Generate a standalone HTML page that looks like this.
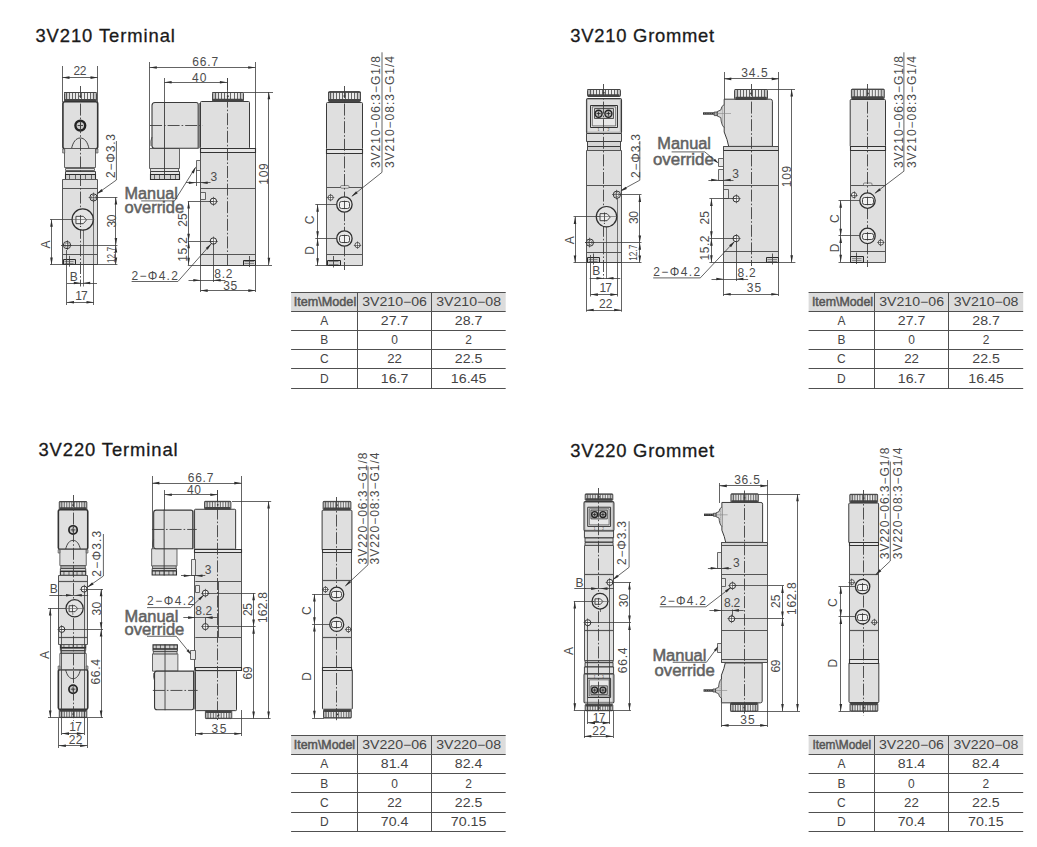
<!DOCTYPE html>
<html><head><meta charset="utf-8"><style>
html,body{margin:0;padding:0;background:#fff;overflow:hidden;width:1037px;height:847px;}
svg{display:block;font-family:"Liberation Sans",sans-serif;}
svg line,svg rect,svg circle,svg path,svg polyline{vector-effect:non-scaling-stroke;}
</style></head><body>
<svg width="1037" height="847" viewBox="0 0 1037 847">
<defs><linearGradient id="kg" x1="0" x2="1" y1="0" y2="0"><stop offset="0" stop-color="#a8a8a8"/><stop offset="0.18" stop-color="#e6e6e6"/><stop offset="0.8" stop-color="#eeeeee"/><stop offset="1" stop-color="#b0b0b0"/></linearGradient></defs>
<rect width="1037" height="847" fill="#fff"/>
<rect x="291.1" y="292" width="214.6" height="19.2" fill="#dcdcdc"/>
<line x1="291.1" y1="292.5" x2="505.7" y2="292.5" stroke="#505050" stroke-width="1"/>
<line x1="291.1" y1="311.5" x2="505.7" y2="311.5" stroke="#505050" stroke-width="1"/>
<line x1="291.1" y1="330.5" x2="505.7" y2="330.5" stroke="#505050" stroke-width="1"/>
<line x1="291.1" y1="349.5" x2="505.7" y2="349.5" stroke="#505050" stroke-width="1"/>
<line x1="291.1" y1="368.5" x2="505.7" y2="368.5" stroke="#505050" stroke-width="1"/>
<line x1="291.1" y1="388.5" x2="505.7" y2="388.5" stroke="#505050" stroke-width="1"/>
<line x1="357.5" y1="292" x2="357.5" y2="388.1" stroke="#505050" stroke-width="1"/>
<line x1="431.5" y1="292" x2="431.5" y2="388.1" stroke="#505050" stroke-width="1"/>
<text x="293.8" y="305.6" font-size="13" fill="#555" stroke="#555" stroke-width="0.5" textLength="62.4" lengthAdjust="spacingAndGlyphs">Item\Model</text>
<text x="394.55" y="305.9" font-size="12" fill="#444" text-anchor="middle" textLength="64.85" lengthAdjust="spacingAndGlyphs">3V210−06</text>
<text x="468.65" y="305.9" font-size="12" fill="#444" text-anchor="middle" textLength="64.85" lengthAdjust="spacingAndGlyphs">3V210−08</text>
<text x="324.3" y="325.15" font-size="12" fill="#444" text-anchor="middle" textLength="8" lengthAdjust="spacingAndGlyphs">A</text>
<text x="394.55" y="325.15" font-size="12" fill="#444" text-anchor="middle" textLength="27.54" lengthAdjust="spacingAndGlyphs">27.7</text>
<text x="468.65" y="325.15" font-size="12" fill="#444" text-anchor="middle" textLength="27.54" lengthAdjust="spacingAndGlyphs">28.7</text>
<text x="324.3" y="344.25" font-size="12" fill="#444" text-anchor="middle" textLength="8" lengthAdjust="spacingAndGlyphs">B</text>
<text x="394.55" y="344.25" font-size="12" fill="#444" text-anchor="middle" textLength="6.67" lengthAdjust="spacingAndGlyphs">0</text>
<text x="468.65" y="344.25" font-size="12" fill="#444" text-anchor="middle" textLength="6.67" lengthAdjust="spacingAndGlyphs">2</text>
<text x="324.3" y="363.35" font-size="12" fill="#444" text-anchor="middle" textLength="8.67" lengthAdjust="spacingAndGlyphs">C</text>
<text x="394.55" y="363.35" font-size="12" fill="#444" text-anchor="middle" textLength="14.74" lengthAdjust="spacingAndGlyphs">22</text>
<text x="468.65" y="363.35" font-size="12" fill="#444" text-anchor="middle" textLength="27.54" lengthAdjust="spacingAndGlyphs">22.5</text>
<text x="324.3" y="382.7" font-size="12" fill="#444" text-anchor="middle" textLength="8.67" lengthAdjust="spacingAndGlyphs">D</text>
<text x="394.55" y="382.7" font-size="12" fill="#444" text-anchor="middle" textLength="27.54" lengthAdjust="spacingAndGlyphs">16.7</text>
<text x="468.65" y="382.7" font-size="12" fill="#444" text-anchor="middle" textLength="35.62" lengthAdjust="spacingAndGlyphs">16.45</text>
<rect x="808.6" y="292" width="214.6" height="19.2" fill="#dcdcdc"/>
<line x1="808.6" y1="292.5" x2="1023.2" y2="292.5" stroke="#505050" stroke-width="1"/>
<line x1="808.6" y1="311.5" x2="1023.2" y2="311.5" stroke="#505050" stroke-width="1"/>
<line x1="808.6" y1="330.5" x2="1023.2" y2="330.5" stroke="#505050" stroke-width="1"/>
<line x1="808.6" y1="349.5" x2="1023.2" y2="349.5" stroke="#505050" stroke-width="1"/>
<line x1="808.6" y1="368.5" x2="1023.2" y2="368.5" stroke="#505050" stroke-width="1"/>
<line x1="808.6" y1="388.5" x2="1023.2" y2="388.5" stroke="#505050" stroke-width="1"/>
<line x1="874.5" y1="292" x2="874.5" y2="388.1" stroke="#505050" stroke-width="1"/>
<line x1="948.5" y1="292" x2="948.5" y2="388.1" stroke="#505050" stroke-width="1"/>
<text x="811.9" y="305.6" font-size="13" fill="#555" stroke="#555" stroke-width="0.5" textLength="61.2" lengthAdjust="spacingAndGlyphs">Item\Model</text>
<text x="911.6" y="305.9" font-size="12" fill="#444" text-anchor="middle" textLength="64.85" lengthAdjust="spacingAndGlyphs">3V210−06</text>
<text x="986.05" y="305.9" font-size="12" fill="#444" text-anchor="middle" textLength="64.85" lengthAdjust="spacingAndGlyphs">3V210−08</text>
<text x="841.45" y="325.15" font-size="12" fill="#444" text-anchor="middle" textLength="8" lengthAdjust="spacingAndGlyphs">A</text>
<text x="911.6" y="325.15" font-size="12" fill="#444" text-anchor="middle" textLength="27.54" lengthAdjust="spacingAndGlyphs">27.7</text>
<text x="986.05" y="325.15" font-size="12" fill="#444" text-anchor="middle" textLength="27.54" lengthAdjust="spacingAndGlyphs">28.7</text>
<text x="841.45" y="344.25" font-size="12" fill="#444" text-anchor="middle" textLength="8" lengthAdjust="spacingAndGlyphs">B</text>
<text x="911.6" y="344.25" font-size="12" fill="#444" text-anchor="middle" textLength="6.67" lengthAdjust="spacingAndGlyphs">0</text>
<text x="986.05" y="344.25" font-size="12" fill="#444" text-anchor="middle" textLength="6.67" lengthAdjust="spacingAndGlyphs">2</text>
<text x="841.45" y="363.35" font-size="12" fill="#444" text-anchor="middle" textLength="8.67" lengthAdjust="spacingAndGlyphs">C</text>
<text x="911.6" y="363.35" font-size="12" fill="#444" text-anchor="middle" textLength="14.74" lengthAdjust="spacingAndGlyphs">22</text>
<text x="986.05" y="363.35" font-size="12" fill="#444" text-anchor="middle" textLength="27.54" lengthAdjust="spacingAndGlyphs">22.5</text>
<text x="841.45" y="382.7" font-size="12" fill="#444" text-anchor="middle" textLength="8.67" lengthAdjust="spacingAndGlyphs">D</text>
<text x="911.6" y="382.7" font-size="12" fill="#444" text-anchor="middle" textLength="27.54" lengthAdjust="spacingAndGlyphs">16.7</text>
<text x="986.05" y="382.7" font-size="12" fill="#444" text-anchor="middle" textLength="35.62" lengthAdjust="spacingAndGlyphs">16.45</text>
<rect x="291.1" y="735.4" width="214.6" height="19" fill="#dcdcdc"/>
<line x1="291.1" y1="735.5" x2="505.7" y2="735.5" stroke="#505050" stroke-width="1"/>
<line x1="291.1" y1="754.5" x2="505.7" y2="754.5" stroke="#505050" stroke-width="1"/>
<line x1="291.1" y1="773.5" x2="505.7" y2="773.5" stroke="#505050" stroke-width="1"/>
<line x1="291.1" y1="792.5" x2="505.7" y2="792.5" stroke="#505050" stroke-width="1"/>
<line x1="291.1" y1="812.5" x2="505.7" y2="812.5" stroke="#505050" stroke-width="1"/>
<line x1="291.1" y1="831.5" x2="505.7" y2="831.5" stroke="#505050" stroke-width="1"/>
<line x1="357.5" y1="735.4" x2="357.5" y2="831.5" stroke="#505050" stroke-width="1"/>
<line x1="431.5" y1="735.4" x2="431.5" y2="831.5" stroke="#505050" stroke-width="1"/>
<text x="293.8" y="748.5" font-size="13" fill="#555" stroke="#555" stroke-width="0.5" textLength="61.3" lengthAdjust="spacingAndGlyphs">Item\Model</text>
<text x="394.55" y="749.2" font-size="12" fill="#444" text-anchor="middle" textLength="64.85" lengthAdjust="spacingAndGlyphs">3V220−06</text>
<text x="468.65" y="749.2" font-size="12" fill="#444" text-anchor="middle" textLength="64.85" lengthAdjust="spacingAndGlyphs">3V220−08</text>
<text x="324.3" y="768.3" font-size="12" fill="#444" text-anchor="middle" textLength="8" lengthAdjust="spacingAndGlyphs">A</text>
<text x="394.55" y="768.3" font-size="12" fill="#444" text-anchor="middle" textLength="27.54" lengthAdjust="spacingAndGlyphs">81.4</text>
<text x="468.65" y="768.3" font-size="12" fill="#444" text-anchor="middle" textLength="27.54" lengthAdjust="spacingAndGlyphs">82.4</text>
<text x="324.3" y="787.5" font-size="12" fill="#444" text-anchor="middle" textLength="8" lengthAdjust="spacingAndGlyphs">B</text>
<text x="394.55" y="787.5" font-size="12" fill="#444" text-anchor="middle" textLength="6.67" lengthAdjust="spacingAndGlyphs">0</text>
<text x="468.65" y="787.5" font-size="12" fill="#444" text-anchor="middle" textLength="6.67" lengthAdjust="spacingAndGlyphs">2</text>
<text x="324.3" y="806.85" font-size="12" fill="#444" text-anchor="middle" textLength="8.67" lengthAdjust="spacingAndGlyphs">C</text>
<text x="394.55" y="806.85" font-size="12" fill="#444" text-anchor="middle" textLength="14.74" lengthAdjust="spacingAndGlyphs">22</text>
<text x="468.65" y="806.85" font-size="12" fill="#444" text-anchor="middle" textLength="27.54" lengthAdjust="spacingAndGlyphs">22.5</text>
<text x="324.3" y="826.2" font-size="12" fill="#444" text-anchor="middle" textLength="8.67" lengthAdjust="spacingAndGlyphs">D</text>
<text x="394.55" y="826.2" font-size="12" fill="#444" text-anchor="middle" textLength="27.54" lengthAdjust="spacingAndGlyphs">70.4</text>
<text x="468.65" y="826.2" font-size="12" fill="#444" text-anchor="middle" textLength="35.62" lengthAdjust="spacingAndGlyphs">70.15</text>
<rect x="808.6" y="735.4" width="214.6" height="18.8" fill="#dcdcdc"/>
<line x1="808.6" y1="735.5" x2="1023.2" y2="735.5" stroke="#505050" stroke-width="1"/>
<line x1="808.6" y1="754.5" x2="1023.2" y2="754.5" stroke="#505050" stroke-width="1"/>
<line x1="808.6" y1="773.5" x2="1023.2" y2="773.5" stroke="#505050" stroke-width="1"/>
<line x1="808.6" y1="792.5" x2="1023.2" y2="792.5" stroke="#505050" stroke-width="1"/>
<line x1="808.6" y1="812.5" x2="1023.2" y2="812.5" stroke="#505050" stroke-width="1"/>
<line x1="808.6" y1="831.5" x2="1023.2" y2="831.5" stroke="#505050" stroke-width="1"/>
<line x1="874.5" y1="735.4" x2="874.5" y2="831.5" stroke="#505050" stroke-width="1"/>
<line x1="948.5" y1="735.4" x2="948.5" y2="831.5" stroke="#505050" stroke-width="1"/>
<text x="812.4" y="748.5" font-size="13" fill="#555" stroke="#555" stroke-width="0.5" textLength="58.7" lengthAdjust="spacingAndGlyphs">Item\Model</text>
<text x="911.45" y="749.1" font-size="12" fill="#444" text-anchor="middle" textLength="64.85" lengthAdjust="spacingAndGlyphs">3V220−06</text>
<text x="985.9" y="749.1" font-size="12" fill="#444" text-anchor="middle" textLength="64.85" lengthAdjust="spacingAndGlyphs">3V220−08</text>
<text x="841.45" y="768.2" font-size="12" fill="#444" text-anchor="middle" textLength="8" lengthAdjust="spacingAndGlyphs">A</text>
<text x="911.45" y="768.2" font-size="12" fill="#444" text-anchor="middle" textLength="27.54" lengthAdjust="spacingAndGlyphs">81.4</text>
<text x="985.9" y="768.2" font-size="12" fill="#444" text-anchor="middle" textLength="27.54" lengthAdjust="spacingAndGlyphs">82.4</text>
<text x="841.45" y="787.5" font-size="12" fill="#444" text-anchor="middle" textLength="8" lengthAdjust="spacingAndGlyphs">B</text>
<text x="911.45" y="787.5" font-size="12" fill="#444" text-anchor="middle" textLength="6.67" lengthAdjust="spacingAndGlyphs">0</text>
<text x="985.9" y="787.5" font-size="12" fill="#444" text-anchor="middle" textLength="6.67" lengthAdjust="spacingAndGlyphs">2</text>
<text x="841.45" y="806.85" font-size="12" fill="#444" text-anchor="middle" textLength="8.67" lengthAdjust="spacingAndGlyphs">C</text>
<text x="911.45" y="806.85" font-size="12" fill="#444" text-anchor="middle" textLength="14.74" lengthAdjust="spacingAndGlyphs">22</text>
<text x="985.9" y="806.85" font-size="12" fill="#444" text-anchor="middle" textLength="27.54" lengthAdjust="spacingAndGlyphs">22.5</text>
<text x="841.45" y="826.2" font-size="12" fill="#444" text-anchor="middle" textLength="8.67" lengthAdjust="spacingAndGlyphs">D</text>
<text x="911.45" y="826.2" font-size="12" fill="#444" text-anchor="middle" textLength="27.54" lengthAdjust="spacingAndGlyphs">70.4</text>
<text x="985.9" y="826.2" font-size="12" fill="#444" text-anchor="middle" textLength="35.62" lengthAdjust="spacingAndGlyphs">70.15</text>
<text x="35.4" y="42.1" font-size="18.4" fill="#1a1a1a" stroke="#1a1a1a" stroke-width="0.3" textLength="139.5" lengthAdjust="spacing">3V210 Terminal</text>
<line x1="62.5" y1="66" x2="62.5" y2="102" stroke="#3c3c3c" stroke-width="0.8"/>
<line x1="97.5" y1="66" x2="97.5" y2="102" stroke="#3c3c3c" stroke-width="0.8"/>
<line x1="62.3" y1="77.5" x2="97.7" y2="77.5" stroke="#3c3c3c" stroke-width="0.8"/>
<polygon points="62.3,77.6 69.5,76.3 69.5,78.9" fill="#2e2e2e"/>
<polygon points="97.7,77.6 90.5,76.3 90.5,78.9" fill="#2e2e2e"/>
<text x="80" y="75.3" font-size="12" fill="#4c4c4c" text-anchor="middle" textLength="13" lengthAdjust="spacing">22</text>
<rect x="64.5" y="92.5" width="32" height="9" fill="url(#kg)" stroke="#3a3a3a" stroke-width="0.9" rx="1"/>
<line x1="66.5" y1="92.5" x2="66.5" y2="100.9" stroke="#3a3a3a" stroke-width="0.75"/>
<line x1="69.5" y1="92.5" x2="69.5" y2="100.9" stroke="#3a3a3a" stroke-width="0.75"/>
<line x1="72.5" y1="92.5" x2="72.5" y2="100.9" stroke="#3a3a3a" stroke-width="0.75"/>
<line x1="75.5" y1="92.5" x2="75.5" y2="100.9" stroke="#3a3a3a" stroke-width="0.75"/>
<line x1="78.5" y1="92.5" x2="78.5" y2="100.9" stroke="#3a3a3a" stroke-width="0.75"/>
<line x1="81.5" y1="92.5" x2="81.5" y2="100.9" stroke="#3a3a3a" stroke-width="0.75"/>
<line x1="84.5" y1="92.5" x2="84.5" y2="100.9" stroke="#3a3a3a" stroke-width="0.75"/>
<line x1="87.5" y1="92.5" x2="87.5" y2="100.9" stroke="#3a3a3a" stroke-width="0.75"/>
<line x1="90.5" y1="92.5" x2="90.5" y2="100.9" stroke="#3a3a3a" stroke-width="0.75"/>
<line x1="93.5" y1="92.5" x2="93.5" y2="100.9" stroke="#3a3a3a" stroke-width="0.75"/>
<rect x="64.4" y="98.9" width="31.8" height="2.8" fill="#444" rx="1.2"/>
<line x1="64" y1="92.5" x2="96.6" y2="92.5" stroke="#444" stroke-width="0.9"/>
<circle cx="80.3" cy="96.23" r="1" fill="#333" stroke="none" stroke-width="0"/>
<rect x="62.9" y="101.7" width="34.8" height="47" fill="#dfdfdf" stroke="#333" stroke-width="1.6" rx="2"/>
<circle cx="80.3" cy="125.6" r="4.9" fill="#c8c8c8" stroke="#222" stroke-width="2.4"/>
<line x1="77.6" y1="125.5" x2="83" y2="125.5" stroke="#222" stroke-width="0.8"/>
<line x1="80.5" y1="122.9" x2="80.5" y2="128.3" stroke="#222" stroke-width="0.8"/>
<path d="M71.5,148.7 C73,142 76,138 80.3,138 C84.6,138 87.6,142 89,148.7" stroke="#333" stroke-width="0.9" fill="none"/>
<rect x="64.5" y="148.5" width="31" height="19" fill="#dfdfdf" stroke="#555" stroke-width="0.9"/>
<rect x="62.6" y="149" width="2.1" height="4" fill="#bbb" stroke="#444" stroke-width="0.6"/>
<rect x="95.9" y="149" width="2.1" height="4" fill="#bbb" stroke="#444" stroke-width="0.6"/>
<rect x="65.5" y="168.5" width="29" height="2" fill="#e4e4e4" stroke="#444" stroke-width="0.8"/>
<rect x="65.5" y="171.5" width="30" height="3" fill="#e4e4e4" stroke="#333" stroke-width="0.9"/>
<rect x="65.5" y="174.5" width="30" height="5" fill="#d0d0d0" stroke="#2e2e2e" stroke-width="1.1"/>
<line x1="69.5" y1="174.8" x2="69.5" y2="179.3" stroke="#333" stroke-width="0.7"/>
<line x1="75.5" y1="174.8" x2="75.5" y2="179.3" stroke="#333" stroke-width="0.7"/>
<line x1="80.5" y1="174.8" x2="80.5" y2="179.3" stroke="#333" stroke-width="0.7"/>
<line x1="85.5" y1="174.8" x2="85.5" y2="179.3" stroke="#333" stroke-width="0.7"/>
<line x1="91.5" y1="174.8" x2="91.5" y2="179.3" stroke="#333" stroke-width="0.7"/>
<rect x="62.5" y="179.5" width="35" height="85" fill="#dfdfdf" stroke="#555" stroke-width="1"/>
<line x1="62.5" y1="188.5" x2="97.5" y2="188.5" stroke="#555" stroke-width="1.2"/>
<line x1="62.5" y1="254.5" x2="97.5" y2="254.5" stroke="#555" stroke-width="1"/>
<line x1="93.5" y1="197" x2="93.5" y2="264.7" stroke="#555" stroke-width="0.8"/>
<line x1="80.5" y1="86" x2="80.5" y2="286.5" stroke="#3e3e3e" stroke-width="0.9" stroke-dasharray="12 2 1.6 2"/>
<line x1="83.5" y1="220" x2="83.5" y2="286.5" stroke="#555" stroke-width="0.8"/>
<rect x="63.5" y="259.5" width="12" height="5" fill="#d2d2d2" stroke="#2a2a2a" stroke-width="1"/>
<line x1="69.5" y1="255.8" x2="69.5" y2="266.7" stroke="#333" stroke-width="0.8"/>
<line x1="64.5" y1="261.5" x2="73.5" y2="261.5" stroke="#555" stroke-width="0.6"/>
<line x1="64.5" y1="263.5" x2="73.5" y2="263.5" stroke="#555" stroke-width="0.6"/>
<circle cx="93.5" cy="197.4" r="3.6" fill="#f6f6f6" stroke="#2e2e2e" stroke-width="1.0"/>
<circle cx="93.5" cy="197.4" r="2.09" fill="none" stroke="#555" stroke-width="0.6"/>
<line x1="88.6" y1="197.5" x2="98.4" y2="197.5" stroke="#333" stroke-width="0.6"/>
<line x1="93.5" y1="192.5" x2="93.5" y2="202.3" stroke="#333" stroke-width="0.6"/>
<circle cx="67" cy="245.1" r="3.6" fill="#f6f6f6" stroke="#2e2e2e" stroke-width="1.0"/>
<circle cx="67" cy="245.1" r="2.09" fill="none" stroke="#555" stroke-width="0.6"/>
<line x1="62.1" y1="245.5" x2="71.9" y2="245.5" stroke="#333" stroke-width="0.6"/>
<line x1="67.5" y1="240.2" x2="67.5" y2="250" stroke="#333" stroke-width="0.6"/>
<circle cx="82.7" cy="219.5" r="10.6" fill="#e4e4e4" stroke="#2e2e2e" stroke-width="1.2"/>
<polygon points="75.96,216.33 83.29,216.33 86.56,219.9 83.29,223.66 75.96,223.66" fill="#f0f0f0" stroke="#333" stroke-width="0.9"/>
<line x1="80.5" y1="215.04" x2="80.5" y2="224.65" stroke="#333" stroke-width="0.8"/>
<line x1="71.1" y1="219.5" x2="94.3" y2="219.5" stroke="#555" stroke-width="0.6"/>
<circle cx="80.52" cy="226.43" r="0.6" fill="#333" stroke="none" stroke-width="0"/>
<text transform="translate(110.3,156) rotate(-90)" x="0" y="4.32" font-size="12" fill="#4c4c4c" text-anchor="middle" textLength="44" lengthAdjust="spacing">2−Φ3.3</text>
<polyline points="116.4,141 116.4,180 97.4,193.5" stroke="#3c3c3c" stroke-width="0.8" fill="none"/>
<polygon points="96.4,194.3 101.5,189.05 103.01,191.17" fill="#2e2e2e"/>
<line x1="96" y1="197.5" x2="117.4" y2="197.5" stroke="#3c3c3c" stroke-width="0.8"/>
<line x1="61" y1="245.5" x2="117.4" y2="245.5" stroke="#3c3c3c" stroke-width="0.8"/>
<line x1="50" y1="264.5" x2="117.4" y2="264.5" stroke="#3c3c3c" stroke-width="0.8"/>
<line x1="115.5" y1="197.2" x2="115.5" y2="245.2" stroke="#3c3c3c" stroke-width="0.8"/>
<polygon points="115.9,197.2 114.6,204.4 117.2,204.4" fill="#2e2e2e"/>
<polygon points="115.9,245.2 114.6,238 117.2,238" fill="#2e2e2e"/>
<line x1="115.5" y1="245.2" x2="115.5" y2="264.7" stroke="#3c3c3c" stroke-width="0.8"/>
<polygon points="115.9,245.2 114.6,252.4 117.2,252.4" fill="#2e2e2e"/>
<polygon points="115.9,264.7 114.6,257.5 117.2,257.5" fill="#2e2e2e"/>
<text transform="translate(111.4,221) rotate(-90)" x="0" y="4.32" font-size="12" fill="#4c4c4c" text-anchor="middle" textLength="13" lengthAdjust="spacing">30</text>
<text transform="translate(111,255) rotate(-90)" x="0" y="3.6" font-size="10" fill="#4c4c4c" text-anchor="middle" textLength="16" lengthAdjust="spacingAndGlyphs">12.7</text>
<line x1="50" y1="219.5" x2="72.5" y2="219.5" stroke="#3c3c3c" stroke-width="0.8"/>
<line x1="51.5" y1="219.5" x2="51.5" y2="264.7" stroke="#3c3c3c" stroke-width="0.8"/>
<polygon points="51.5,219.5 50.2,226.7 52.8,226.7" fill="#2e2e2e"/>
<polygon points="51.5,264.7 50.2,257.5 52.8,257.5" fill="#2e2e2e"/>
<text transform="translate(45.5,244.4) rotate(-90)" x="0" y="4.32" font-size="12" fill="#4c4c4c" text-anchor="middle" textLength="8" lengthAdjust="spacing">A</text>
<line x1="66.5" y1="250" x2="66.5" y2="305" stroke="#3c3c3c" stroke-width="0.8"/>
<line x1="93.5" y1="264.7" x2="93.5" y2="305" stroke="#3c3c3c" stroke-width="0.8"/>
<line x1="67" y1="283.5" x2="97" y2="283.5" stroke="#3c3c3c" stroke-width="0.8"/>
<polygon points="81,283 73.8,281.7 73.8,284.3" fill="#2e2e2e"/>
<polygon points="83,283 90.2,281.7 90.2,284.3" fill="#2e2e2e"/>
<text x="73.7" y="280.6" font-size="12" fill="#4c4c4c" text-anchor="middle" textLength="7.5" lengthAdjust="spacing">B</text>
<line x1="66.8" y1="302.5" x2="93.7" y2="302.5" stroke="#3c3c3c" stroke-width="0.8"/>
<polygon points="66.8,302.2 74,300.9 74,303.5" fill="#2e2e2e"/>
<polygon points="93.7,302.2 86.5,300.9 86.5,303.5" fill="#2e2e2e"/>
<text x="81.4" y="300" font-size="12" fill="#4c4c4c" text-anchor="middle" textLength="12.5" lengthAdjust="spacing">17</text>
<line x1="149.5" y1="62" x2="149.5" y2="150" stroke="#3c3c3c" stroke-width="0.8"/>
<line x1="255.5" y1="62" x2="255.5" y2="150" stroke="#3c3c3c" stroke-width="0.8"/>
<line x1="149.6" y1="67.5" x2="255.4" y2="67.5" stroke="#3c3c3c" stroke-width="0.8"/>
<polygon points="149.6,67.5 156.8,66.2 156.8,68.8" fill="#2e2e2e"/>
<polygon points="255.4,67.5 248.2,66.2 248.2,68.8" fill="#2e2e2e"/>
<text x="205.2" y="65.6" font-size="12" fill="#4c4c4c" text-anchor="middle" textLength="26" lengthAdjust="spacing">66.7</text>
<line x1="164.5" y1="78" x2="164.5" y2="102" stroke="#3c3c3c" stroke-width="0.8"/>
<line x1="227.5" y1="78" x2="227.5" y2="92" stroke="#3c3c3c" stroke-width="0.8"/>
<line x1="164.4" y1="82.5" x2="227.1" y2="82.5" stroke="#3c3c3c" stroke-width="0.8"/>
<polygon points="164.4,82.3 171.6,81 171.6,83.6" fill="#2e2e2e"/>
<polygon points="227.1,82.3 219.9,81 219.9,83.6" fill="#2e2e2e"/>
<text x="199.2" y="81.6" font-size="12" fill="#4c4c4c" text-anchor="middle" textLength="14.3" lengthAdjust="spacing">40</text>
<rect x="149.5" y="148.5" width="30" height="20" fill="#dfdfdf" stroke="#555" stroke-width="0.9"/>
<rect x="150.5" y="168.5" width="28" height="3" fill="#e4e4e4" stroke="#444" stroke-width="0.8"/>
<rect x="150.5" y="171.5" width="29" height="3" fill="#e4e4e4" stroke="#333" stroke-width="0.9"/>
<rect x="150.5" y="174.5" width="29" height="5" fill="#d0d0d0" stroke="#2e2e2e" stroke-width="1.1"/>
<line x1="154.5" y1="174.6" x2="154.5" y2="179.3" stroke="#333" stroke-width="0.7"/>
<line x1="159.5" y1="174.6" x2="159.5" y2="179.3" stroke="#333" stroke-width="0.7"/>
<line x1="164.5" y1="174.6" x2="164.5" y2="179.3" stroke="#333" stroke-width="0.7"/>
<line x1="170.5" y1="174.6" x2="170.5" y2="179.3" stroke="#333" stroke-width="0.7"/>
<line x1="175.5" y1="174.6" x2="175.5" y2="179.3" stroke="#333" stroke-width="0.7"/>
<path d="M155,102.5 L196.2,102.5 Q198.2,102.5 198.2,104.5 L198.2,148.2 L154.5,148.2 Q152,148.2 152,145.7 L152,105.5 Q152,102.5 155,102.5 Z" stroke="#3a3a3a" stroke-width="1.1" fill="#dfdfdf"/>
<path d="M152,137 Q150.2,141 151,146" stroke="#444" stroke-width="0.8" fill="none"/>
<rect x="200.5" y="101.5" width="49" height="47" fill="#dfdfdf" stroke="#3a3a3a" stroke-width="1" rx="1"/>
<line x1="199.5" y1="103" x2="199.5" y2="148.2" stroke="#666" stroke-width="0.8"/>
<rect x="212.5" y="92.5" width="31" height="9" fill="url(#kg)" stroke="#3a3a3a" stroke-width="0.9" rx="1"/>
<line x1="215.5" y1="92.6" x2="215.5" y2="100.8" stroke="#3a3a3a" stroke-width="0.75"/>
<line x1="218.5" y1="92.6" x2="218.5" y2="100.8" stroke="#3a3a3a" stroke-width="0.75"/>
<line x1="221.5" y1="92.6" x2="221.5" y2="100.8" stroke="#3a3a3a" stroke-width="0.75"/>
<line x1="224.5" y1="92.6" x2="224.5" y2="100.8" stroke="#3a3a3a" stroke-width="0.75"/>
<line x1="227.5" y1="92.6" x2="227.5" y2="100.8" stroke="#3a3a3a" stroke-width="0.75"/>
<line x1="230.5" y1="92.6" x2="230.5" y2="100.8" stroke="#3a3a3a" stroke-width="0.75"/>
<line x1="234.5" y1="92.6" x2="234.5" y2="100.8" stroke="#3a3a3a" stroke-width="0.75"/>
<line x1="237.5" y1="92.6" x2="237.5" y2="100.8" stroke="#3a3a3a" stroke-width="0.75"/>
<line x1="240.5" y1="92.6" x2="240.5" y2="100.8" stroke="#3a3a3a" stroke-width="0.75"/>
<rect x="212.6" y="98.8" width="30.4" height="2.8" fill="#444" rx="1.2"/>
<line x1="212.2" y1="92.5" x2="243.4" y2="92.5" stroke="#444" stroke-width="0.9"/>
<circle cx="227.8" cy="96.24" r="1" fill="#333" stroke="none" stroke-width="0"/>
<line x1="150" y1="125.5" x2="203" y2="125.5" stroke="#3e3e3e" stroke-width="0.9" stroke-dasharray="12 2 1.6 2"/>
<line x1="164.5" y1="102" x2="164.5" y2="180" stroke="#3a3a3a" stroke-width="0.9"/>
<rect x="200.5" y="148.5" width="55" height="117" fill="#dfdfdf" stroke="#555" stroke-width="1"/>
<rect x="200.5" y="148.5" width="55" height="4" fill="#e6e6e6" stroke="#333" stroke-width="1.1"/>
<line x1="200.5" y1="188.5" x2="255.5" y2="188.5" stroke="#555" stroke-width="1.2"/>
<line x1="200.5" y1="254.5" x2="255.5" y2="254.5" stroke="#555" stroke-width="1"/>
<rect x="196.5" y="160.5" width="4" height="10" fill="#e8e8e8" stroke="#444" stroke-width="0.8"/>
<rect x="200.5" y="192.5" width="5" height="7" fill="#e8e8e8" stroke="#444" stroke-width="0.8"/>
<rect x="243.5" y="260.5" width="12" height="5" fill="#d2d2d2" stroke="#2a2a2a" stroke-width="1"/>
<line x1="249.5" y1="256" x2="249.5" y2="267" stroke="#333" stroke-width="0.8"/>
<line x1="244.5" y1="261.5" x2="254" y2="261.5" stroke="#555" stroke-width="0.6"/>
<line x1="244.5" y1="263.5" x2="254" y2="263.5" stroke="#555" stroke-width="0.6"/>
<line x1="227.5" y1="78" x2="227.5" y2="266" stroke="#3e3e3e" stroke-width="0.9" stroke-dasharray="12 2 1.6 2"/>
<circle cx="213.4" cy="201.3" r="3.2" fill="#f6f6f6" stroke="#2e2e2e" stroke-width="1.0"/>
<line x1="208.9" y1="201.5" x2="217.9" y2="201.5" stroke="#333" stroke-width="0.6"/>
<line x1="213.5" y1="196.8" x2="213.5" y2="205.8" stroke="#333" stroke-width="0.6"/>
<circle cx="213.4" cy="241" r="3.2" fill="#f6f6f6" stroke="#2e2e2e" stroke-width="1.0"/>
<line x1="208.9" y1="241.5" x2="217.9" y2="241.5" stroke="#333" stroke-width="0.6"/>
<line x1="213.5" y1="236.5" x2="213.5" y2="245.5" stroke="#333" stroke-width="0.6"/>
<line x1="186" y1="182.5" x2="210.5" y2="182.5" stroke="#3c3c3c" stroke-width="0.8"/>
<polygon points="196,182.8 188.8,181.5 188.8,184.1" fill="#2e2e2e"/>
<polygon points="200.5,182.8 207.7,181.5 207.7,184.1" fill="#2e2e2e"/>
<line x1="196.5" y1="170" x2="196.5" y2="186" stroke="#3c3c3c" stroke-width="0.8"/>
<text x="213.8" y="180.6" font-size="12" fill="#4c4c4c" text-anchor="middle" textLength="6.5" lengthAdjust="spacing">3</text>
<text x="124.6" y="198.6" font-size="16" fill="#626262" stroke="#626262" stroke-width="0.5" textLength="53.2" lengthAdjust="spacingAndGlyphs">Manual</text>
<text x="124.6" y="212.6" font-size="16" fill="#626262" stroke="#626262" stroke-width="0.5" textLength="59.5" lengthAdjust="spacingAndGlyphs">override</text>
<polyline points="141.2,200.9 174.5,200.9 195.5,167.5" stroke="#3c3c3c" stroke-width="0.8" fill="none"/>
<polygon points="196,166.6 193.75,173.56 191.46,172.34" fill="#2e2e2e"/>
<line x1="187.8" y1="201.5" x2="213" y2="201.5" stroke="#3c3c3c" stroke-width="0.8"/>
<line x1="187.8" y1="241.5" x2="213" y2="241.5" stroke="#3c3c3c" stroke-width="0.8"/>
<line x1="187.8" y1="265.5" x2="272" y2="265.5" stroke="#3c3c3c" stroke-width="0.8"/>
<line x1="188.5" y1="201.3" x2="188.5" y2="241" stroke="#3c3c3c" stroke-width="0.8"/>
<polygon points="188.6,201.3 187.3,208.5 189.9,208.5" fill="#2e2e2e"/>
<polygon points="188.6,241 187.3,233.8 189.9,233.8" fill="#2e2e2e"/>
<line x1="188.5" y1="241" x2="188.5" y2="265" stroke="#3c3c3c" stroke-width="0.8"/>
<polygon points="188.6,241 187.3,248.2 189.9,248.2" fill="#2e2e2e"/>
<polygon points="188.6,265 187.3,257.8 189.9,257.8" fill="#2e2e2e"/>
<text transform="translate(182.8,220) rotate(-90)" x="0" y="4.32" font-size="12" fill="#4c4c4c" text-anchor="middle" textLength="13.5" lengthAdjust="spacing">25</text>
<text transform="translate(182.6,249.4) rotate(-90)" x="0" y="4.32" font-size="12" fill="#4c4c4c" text-anchor="middle" textLength="24.6" lengthAdjust="spacing">15.2</text>
<text x="131.6" y="279.8" font-size="12" fill="#4c4c4c" textLength="46.3" lengthAdjust="spacing">2−Φ4.2</text>
<polyline points="131.6,281.5 177.9,281.5 211,244" stroke="#3c3c3c" stroke-width="0.8" fill="none"/>
<polygon points="211.5,243.5 207.7,249.75 205.76,248.03" fill="#2e2e2e"/>
<line x1="213.5" y1="243" x2="213.5" y2="282" stroke="#3c3c3c" stroke-width="0.8"/>
<line x1="200.5" y1="265" x2="200.5" y2="292" stroke="#3c3c3c" stroke-width="0.8"/>
<line x1="255.5" y1="265" x2="255.5" y2="292" stroke="#3c3c3c" stroke-width="0.8"/>
<line x1="188.5" y1="280.5" x2="225.4" y2="280.5" stroke="#3c3c3c" stroke-width="0.8"/>
<polygon points="200.5,280.3 193.3,279 193.3,281.6" fill="#2e2e2e"/>
<polygon points="213.4,280.3 220.6,279 220.6,281.6" fill="#2e2e2e"/>
<text x="214.2" y="278" font-size="12" fill="#4c4c4c" textLength="18.2" lengthAdjust="spacing">8.2</text>
<line x1="200.5" y1="290.5" x2="255.5" y2="290.5" stroke="#3c3c3c" stroke-width="0.8"/>
<polygon points="200.5,290.6 207.7,289.3 207.7,291.9" fill="#2e2e2e"/>
<polygon points="255.5,290.6 248.3,289.3 248.3,291.9" fill="#2e2e2e"/>
<text x="230.3" y="289.8" font-size="12" fill="#4c4c4c" text-anchor="middle" textLength="14" lengthAdjust="spacing">35</text>
<line x1="243.4" y1="92.5" x2="273" y2="92.5" stroke="#3c3c3c" stroke-width="0.8"/>
<line x1="268.5" y1="92.1" x2="268.5" y2="265" stroke="#3c3c3c" stroke-width="0.8"/>
<polygon points="268.9,92.1 267.6,99.3 270.2,99.3" fill="#2e2e2e"/>
<polygon points="268.9,265 267.6,257.8 270.2,257.8" fill="#2e2e2e"/>
<text transform="translate(263.5,174) rotate(-90)" x="0" y="4.32" font-size="12" fill="#4c4c4c" text-anchor="middle" textLength="21.5" lengthAdjust="spacing">109</text>
<rect x="328.5" y="91.5" width="32" height="10" fill="url(#kg)" stroke="#3a3a3a" stroke-width="0.9" rx="1"/>
<line x1="330.5" y1="92.2" x2="330.5" y2="100.9" stroke="#3a3a3a" stroke-width="0.75"/>
<line x1="333.5" y1="92.2" x2="333.5" y2="100.9" stroke="#3a3a3a" stroke-width="0.75"/>
<line x1="336.5" y1="92.2" x2="336.5" y2="100.9" stroke="#3a3a3a" stroke-width="0.75"/>
<line x1="339.5" y1="92.2" x2="339.5" y2="100.9" stroke="#3a3a3a" stroke-width="0.75"/>
<line x1="342.5" y1="92.2" x2="342.5" y2="100.9" stroke="#3a3a3a" stroke-width="0.75"/>
<line x1="345.5" y1="92.2" x2="345.5" y2="100.9" stroke="#3a3a3a" stroke-width="0.75"/>
<line x1="348.5" y1="92.2" x2="348.5" y2="100.9" stroke="#3a3a3a" stroke-width="0.75"/>
<line x1="351.5" y1="92.2" x2="351.5" y2="100.9" stroke="#3a3a3a" stroke-width="0.75"/>
<line x1="354.5" y1="92.2" x2="354.5" y2="100.9" stroke="#3a3a3a" stroke-width="0.75"/>
<line x1="357.5" y1="92.2" x2="357.5" y2="100.9" stroke="#3a3a3a" stroke-width="0.75"/>
<rect x="328.4" y="98.9" width="32.1" height="2.8" fill="#444" rx="1.2"/>
<line x1="328" y1="92.5" x2="360.9" y2="92.5" stroke="#444" stroke-width="0.9"/>
<circle cx="344.45" cy="96.06" r="1" fill="#333" stroke="none" stroke-width="0"/>
<rect x="326.5" y="102.5" width="36" height="47" fill="#dfdfdf" stroke="#3a3a3a" stroke-width="1" rx="1"/>
<rect x="326.5" y="149.5" width="36" height="116" fill="#dfdfdf" stroke="#555" stroke-width="1"/>
<rect x="326.5" y="149.5" width="36" height="4" fill="#e6e6e6" stroke="#333" stroke-width="1.1"/>
<line x1="326.8" y1="187.5" x2="362.1" y2="187.5" stroke="#555" stroke-width="1.2"/>
<line x1="326.8" y1="254.5" x2="362.1" y2="254.5" stroke="#555" stroke-width="1"/>
<rect x="340.6" y="185.6" width="8.4" height="2.6" fill="#e8e8e8" stroke="#555" stroke-width="0.7" rx="1"/>
<rect x="327.5" y="260.5" width="13" height="5" fill="#d2d2d2" stroke="#2a2a2a" stroke-width="1"/>
<line x1="333.5" y1="256" x2="333.5" y2="267.5" stroke="#333" stroke-width="0.8"/>
<line x1="328.7" y1="261.5" x2="338.5" y2="261.5" stroke="#555" stroke-width="0.6"/>
<line x1="328.7" y1="264.5" x2="338.5" y2="264.5" stroke="#555" stroke-width="0.6"/>
<line x1="344.5" y1="86" x2="344.5" y2="270" stroke="#3e3e3e" stroke-width="0.9" stroke-dasharray="12 2 1.6 2"/>
<circle cx="344.4" cy="204.5" r="7.7" fill="#e6e6e6" stroke="#2e2e2e" stroke-width="1.3"/>
<rect x="339.5" y="201.5" width="10" height="7" fill="#f2f2f2" stroke="#333" stroke-width="0.9" rx="2"/>
<line x1="344.5" y1="200.65" x2="344.5" y2="209.12" stroke="#333" stroke-width="0.8"/>
<circle cx="344.4" cy="238.5" r="7.7" fill="#e6e6e6" stroke="#2e2e2e" stroke-width="1.3"/>
<rect x="339.5" y="235.5" width="10" height="7" fill="#f2f2f2" stroke="#333" stroke-width="0.9" rx="2"/>
<line x1="344.5" y1="234.65" x2="344.5" y2="243.12" stroke="#333" stroke-width="0.8"/>
<circle cx="330.6" cy="197.6" r="2.6" fill="#f6f6f6" stroke="#2e2e2e" stroke-width="0.8"/>
<line x1="326.9" y1="197.5" x2="334.3" y2="197.5" stroke="#333" stroke-width="0.6"/>
<line x1="330.5" y1="193.9" x2="330.5" y2="201.3" stroke="#333" stroke-width="0.6"/>
<circle cx="357.5" cy="245.1" r="2.6" fill="#f6f6f6" stroke="#2e2e2e" stroke-width="0.8"/>
<line x1="353.8" y1="245.5" x2="361.2" y2="245.5" stroke="#333" stroke-width="0.6"/>
<line x1="357.5" y1="241.4" x2="357.5" y2="248.8" stroke="#333" stroke-width="0.6"/>
<line x1="315.3" y1="204.5" x2="336" y2="204.5" stroke="#3c3c3c" stroke-width="0.8"/>
<line x1="315.3" y1="238.5" x2="336" y2="238.5" stroke="#3c3c3c" stroke-width="0.8"/>
<line x1="315.3" y1="265.5" x2="327" y2="265.5" stroke="#3c3c3c" stroke-width="0.8"/>
<line x1="317.5" y1="204.5" x2="317.5" y2="238.5" stroke="#3c3c3c" stroke-width="0.8"/>
<polygon points="317.6,204.5 316.3,211.7 318.9,211.7" fill="#2e2e2e"/>
<polygon points="317.6,238.5 316.3,231.3 318.9,231.3" fill="#2e2e2e"/>
<line x1="317.5" y1="238.5" x2="317.5" y2="265.5" stroke="#3c3c3c" stroke-width="0.8"/>
<polygon points="317.6,238.5 316.3,245.7 318.9,245.7" fill="#2e2e2e"/>
<polygon points="317.6,265.5 316.3,258.3 318.9,258.3" fill="#2e2e2e"/>
<text transform="translate(309.9,220) rotate(-90)" x="0" y="4.32" font-size="12" fill="#4c4c4c" text-anchor="middle" textLength="8" lengthAdjust="spacing">C</text>
<text transform="translate(309.9,250.5) rotate(-90)" x="0" y="4.32" font-size="12" fill="#4c4c4c" text-anchor="middle" textLength="8" lengthAdjust="spacing">D</text>
<text transform="translate(376,112.1) rotate(-90)" x="0" y="4.32" font-size="12" fill="#4c4c4c" text-anchor="middle" textLength="112" lengthAdjust="spacing">3V210−06:3−G1/8</text>
<text transform="translate(389.2,112.1) rotate(-90)" x="0" y="4.32" font-size="12" fill="#4c4c4c" text-anchor="middle" textLength="112" lengthAdjust="spacing">3V210−08:3−G1/4</text>
<polyline points="382,52.3 382,172.3 352.2,196" stroke="#3c3c3c" stroke-width="0.8" fill="none"/>
<polygon points="351.3,196.8 356.12,191.29 357.74,193.33" fill="#2e2e2e"/>
<text x="570.3" y="42.2" font-size="18.4" fill="#1a1a1a" stroke="#1a1a1a" stroke-width="0.3" textLength="143.9" lengthAdjust="spacing">3V210 Grommet</text>
<rect x="587.5" y="89.5" width="33" height="7" fill="url(#kg)" stroke="#3a3a3a" stroke-width="0.9" rx="1"/>
<line x1="590.5" y1="89.8" x2="590.5" y2="96.3" stroke="#3a3a3a" stroke-width="0.75"/>
<line x1="593.5" y1="89.8" x2="593.5" y2="96.3" stroke="#3a3a3a" stroke-width="0.75"/>
<line x1="596.5" y1="89.8" x2="596.5" y2="96.3" stroke="#3a3a3a" stroke-width="0.75"/>
<line x1="599.5" y1="89.8" x2="599.5" y2="96.3" stroke="#3a3a3a" stroke-width="0.75"/>
<line x1="602.5" y1="89.8" x2="602.5" y2="96.3" stroke="#3a3a3a" stroke-width="0.75"/>
<line x1="605.5" y1="89.8" x2="605.5" y2="96.3" stroke="#3a3a3a" stroke-width="0.75"/>
<line x1="608.5" y1="89.8" x2="608.5" y2="96.3" stroke="#3a3a3a" stroke-width="0.75"/>
<line x1="611.5" y1="89.8" x2="611.5" y2="96.3" stroke="#3a3a3a" stroke-width="0.75"/>
<line x1="614.5" y1="89.8" x2="614.5" y2="96.3" stroke="#3a3a3a" stroke-width="0.75"/>
<line x1="617.5" y1="89.8" x2="617.5" y2="96.3" stroke="#3a3a3a" stroke-width="0.75"/>
<rect x="587.8" y="94.3" width="31.9" height="2.8" fill="#444" rx="1.2"/>
<line x1="587.4" y1="89.5" x2="620.1" y2="89.5" stroke="#444" stroke-width="0.9"/>
<circle cx="603.75" cy="92.67" r="1" fill="#333" stroke="none" stroke-width="0"/>
<rect x="586.5" y="98.5" width="35" height="35" fill="#dfdfdf" stroke="#3a3a3a" stroke-width="1.1" rx="1.5"/>
<rect x="587" y="99.4" width="33.4" height="32.8" fill="none" stroke="#777" stroke-width="0.6" rx="1"/>
<rect x="590.5" y="105.5" width="27" height="22" fill="#e8e8e8" stroke="#333" stroke-width="1"/>
<rect x="592.3" y="106.8" width="23.4" height="19.1" fill="none" stroke="#444" stroke-width="0.7"/>
<rect x="594.5" y="108.5" width="19" height="10" fill="#c8c8c8" stroke="#333" stroke-width="0.8"/>
<circle cx="598.6" cy="113.7" r="3.5" fill="#b4b4b4" stroke="#222" stroke-width="1.4"/>
<line x1="596.6" y1="113.5" x2="600.6" y2="113.5" stroke="#222" stroke-width="0.8"/>
<line x1="598.5" y1="111.7" x2="598.5" y2="115.7" stroke="#222" stroke-width="0.8"/>
<circle cx="608.4" cy="113.7" r="3.5" fill="#b4b4b4" stroke="#222" stroke-width="1.4"/>
<line x1="606.4" y1="113.5" x2="610.4" y2="113.5" stroke="#222" stroke-width="0.8"/>
<line x1="608.5" y1="111.7" x2="608.5" y2="115.7" stroke="#222" stroke-width="0.8"/>
<text x="598.5" y="131.4" font-size="3.5" fill="#333" text-anchor="middle">1</text>
<text x="608.5" y="131.4" font-size="3.5" fill="#333" text-anchor="middle">2</text>
<rect x="586.5" y="133.5" width="35" height="8" fill="#dedede" stroke="#333" stroke-width="0.9"/>
<rect x="587.5" y="141.5" width="33" height="5" fill="#d6d6d6" stroke="#333" stroke-width="0.9"/>
<rect x="587.5" y="146.5" width="33" height="4" fill="#d0d0d0" stroke="#333" stroke-width="0.9"/>
<rect x="586.5" y="150.5" width="35" height="112" fill="#dfdfdf" stroke="#555" stroke-width="1"/>
<line x1="586.9" y1="185.5" x2="621.8" y2="185.5" stroke="#555" stroke-width="1.2"/>
<line x1="586.9" y1="252.5" x2="621.8" y2="252.5" stroke="#555" stroke-width="1"/>
<line x1="617.5" y1="195" x2="617.5" y2="262.6" stroke="#555" stroke-width="0.8"/>
<rect x="587.5" y="257.5" width="12" height="5" fill="#d2d2d2" stroke="#2a2a2a" stroke-width="1"/>
<line x1="593.5" y1="253.5" x2="593.5" y2="264.6" stroke="#333" stroke-width="0.8"/>
<line x1="588.8" y1="259.5" x2="597.5" y2="259.5" stroke="#555" stroke-width="0.6"/>
<line x1="588.8" y1="261.5" x2="597.5" y2="261.5" stroke="#555" stroke-width="0.6"/>
<line x1="603.5" y1="84" x2="603.5" y2="279" stroke="#3e3e3e" stroke-width="0.9" stroke-dasharray="12 2 1.6 2"/>
<line x1="606.5" y1="217" x2="606.5" y2="279" stroke="#555" stroke-width="0.8"/>
<circle cx="616.9" cy="194.7" r="3.6" fill="#f6f6f6" stroke="#2e2e2e" stroke-width="1.0"/>
<circle cx="616.9" cy="194.7" r="2.09" fill="none" stroke="#555" stroke-width="0.6"/>
<line x1="612" y1="194.5" x2="621.8" y2="194.5" stroke="#333" stroke-width="0.6"/>
<line x1="616.5" y1="189.8" x2="616.5" y2="199.6" stroke="#333" stroke-width="0.6"/>
<circle cx="589.9" cy="242.6" r="3.6" fill="#f6f6f6" stroke="#2e2e2e" stroke-width="1.0"/>
<circle cx="589.9" cy="242.6" r="2.09" fill="none" stroke="#555" stroke-width="0.6"/>
<line x1="585" y1="242.5" x2="594.8" y2="242.5" stroke="#333" stroke-width="0.6"/>
<line x1="589.5" y1="237.7" x2="589.5" y2="247.5" stroke="#333" stroke-width="0.6"/>
<circle cx="606.5" cy="216.7" r="10.2" fill="#e4e4e4" stroke="#2e2e2e" stroke-width="1.2"/>
<polygon points="600.02,213.65 607.07,213.65 610.22,217.08 607.07,220.7 600.02,220.7" fill="#f0f0f0" stroke="#333" stroke-width="0.9"/>
<line x1="604.5" y1="212.41" x2="604.5" y2="221.66" stroke="#333" stroke-width="0.8"/>
<line x1="595.3" y1="216.5" x2="617.7" y2="216.5" stroke="#555" stroke-width="0.6"/>
<circle cx="604.4" cy="223.37" r="0.6" fill="#333" stroke="none" stroke-width="0"/>
<text transform="translate(635.2,156) rotate(-90)" x="0" y="4.32" font-size="12" fill="#4c4c4c" text-anchor="middle" textLength="44" lengthAdjust="spacing">2−Φ3.3</text>
<polyline points="639.8,141 639.8,180.2 621.5,190.2" stroke="#3c3c3c" stroke-width="0.8" fill="none"/>
<polygon points="620,191.5 625.61,186.8 626.9,189.06" fill="#2e2e2e"/>
<line x1="619" y1="194.5" x2="641.5" y2="194.5" stroke="#3c3c3c" stroke-width="0.8"/>
<line x1="585" y1="242.5" x2="641.5" y2="242.5" stroke="#3c3c3c" stroke-width="0.8"/>
<line x1="573.5" y1="262.5" x2="641.5" y2="262.5" stroke="#3c3c3c" stroke-width="0.8"/>
<line x1="639.5" y1="194.8" x2="639.5" y2="242.6" stroke="#3c3c3c" stroke-width="0.8"/>
<polygon points="639.8,194.8 638.5,202 641.1,202" fill="#2e2e2e"/>
<polygon points="639.8,242.6 638.5,235.4 641.1,235.4" fill="#2e2e2e"/>
<line x1="639.5" y1="242.6" x2="639.5" y2="262.6" stroke="#3c3c3c" stroke-width="0.8"/>
<polygon points="639.8,242.6 638.5,249.8 641.1,249.8" fill="#2e2e2e"/>
<polygon points="639.8,262.6 638.5,255.4 641.1,255.4" fill="#2e2e2e"/>
<text transform="translate(633.6,217.5) rotate(-90)" x="0" y="4.32" font-size="12" fill="#4c4c4c" text-anchor="middle" textLength="13" lengthAdjust="spacing">30</text>
<text transform="translate(633.4,252.7) rotate(-90)" x="0" y="3.6" font-size="10" fill="#4c4c4c" text-anchor="middle" textLength="16" lengthAdjust="spacingAndGlyphs">12.7</text>
<line x1="573.5" y1="216.5" x2="600" y2="216.5" stroke="#3c3c3c" stroke-width="0.8"/>
<line x1="575.5" y1="216.7" x2="575.5" y2="262.6" stroke="#3c3c3c" stroke-width="0.8"/>
<polygon points="575,216.7 573.7,223.9 576.3,223.9" fill="#2e2e2e"/>
<polygon points="575,262.6 573.7,255.4 576.3,255.4" fill="#2e2e2e"/>
<text transform="translate(569.3,240.2) rotate(-90)" x="0" y="4.32" font-size="12" fill="#4c4c4c" text-anchor="middle" textLength="8" lengthAdjust="spacing">A</text>
<line x1="586.5" y1="262.6" x2="586.5" y2="311.7" stroke="#3c3c3c" stroke-width="0.8"/>
<line x1="621.5" y1="262.6" x2="621.5" y2="311.7" stroke="#3c3c3c" stroke-width="0.8"/>
<line x1="590.5" y1="255" x2="590.5" y2="296.5" stroke="#3c3c3c" stroke-width="0.8"/>
<line x1="617.5" y1="262.6" x2="617.5" y2="296.5" stroke="#3c3c3c" stroke-width="0.8"/>
<line x1="589.7" y1="278.5" x2="620.3" y2="278.5" stroke="#3c3c3c" stroke-width="0.8"/>
<polygon points="603.7,278.3 596.5,277 596.5,279.6" fill="#2e2e2e"/>
<polygon points="606.3,278.3 613.5,277 613.5,279.6" fill="#2e2e2e"/>
<text x="596.2" y="274.6" font-size="12" fill="#4c4c4c" text-anchor="middle" textLength="7.5" lengthAdjust="spacing">B</text>
<line x1="590.7" y1="294.5" x2="617.6" y2="294.5" stroke="#3c3c3c" stroke-width="0.8"/>
<polygon points="590.7,294.6 597.9,293.3 597.9,295.9" fill="#2e2e2e"/>
<polygon points="617.6,294.6 610.4,293.3 610.4,295.9" fill="#2e2e2e"/>
<text x="605.8" y="291.6" font-size="12" fill="#4c4c4c" text-anchor="middle" textLength="12.5" lengthAdjust="spacing">17</text>
<line x1="586.5" y1="310.5" x2="621.4" y2="310.5" stroke="#3c3c3c" stroke-width="0.8"/>
<polygon points="586.5,310 593.7,308.7 593.7,311.3" fill="#2e2e2e"/>
<polygon points="621.4,310 614.2,308.7 614.2,311.3" fill="#2e2e2e"/>
<text x="605.8" y="307.9" font-size="12" fill="#4c4c4c" text-anchor="middle" textLength="13.5" lengthAdjust="spacing">22</text>
<line x1="724.5" y1="72" x2="724.5" y2="100" stroke="#3c3c3c" stroke-width="0.8"/>
<line x1="778.5" y1="72" x2="778.5" y2="147" stroke="#3c3c3c" stroke-width="0.8"/>
<line x1="724.1" y1="78.5" x2="778.9" y2="78.5" stroke="#3c3c3c" stroke-width="0.8"/>
<polygon points="724.1,78.9 731.3,77.6 731.3,80.2" fill="#2e2e2e"/>
<polygon points="778.9,78.9 771.7,77.6 771.7,80.2" fill="#2e2e2e"/>
<text x="754.4" y="76.6" font-size="12" fill="#4c4c4c" text-anchor="middle" textLength="26.5" lengthAdjust="spacing">34.5</text>
<path d="M724.2,99.2 L770.4,99.2 Q772.4,99.2 772.4,101.2 L772.4,146.4 L728.7,146.4 Q727.6,140 724.2,132 Z" stroke="#3a3a3a" stroke-width="1" fill="#dfdfdf"/>
<path d="M724.2,104.6 Q721.2,106 720.8,110 L717.2,111.6 L717.2,116 L720.8,117.6 Q721.2,125 724.2,127.6" stroke="#444" stroke-width="0.9" fill="#d4d4d4"/>
<line x1="722.5" y1="106.5" x2="722.5" y2="125.5" stroke="#777" stroke-width="0.6" stroke-dasharray="1 1"/>
<rect x="714.2" y="112" width="3" height="3.6" fill="#aaa" stroke="#333" stroke-width="0.7"/>
<line x1="703" y1="113.5" x2="714.2" y2="113.5" stroke="#333" stroke-width="2.4"/>
<line x1="704" y1="113.5" x2="714" y2="113.5" stroke="#999" stroke-width="0.7" stroke-dasharray="0.8 1"/>
<line x1="717.2" y1="113.5" x2="731" y2="113.5" stroke="#888" stroke-width="0.6"/>
<rect x="734.5" y="89.5" width="33" height="10" fill="url(#kg)" stroke="#3a3a3a" stroke-width="0.9" rx="1"/>
<line x1="737.5" y1="89.5" x2="737.5" y2="98.7" stroke="#3a3a3a" stroke-width="0.75"/>
<line x1="740.5" y1="89.5" x2="740.5" y2="98.7" stroke="#3a3a3a" stroke-width="0.75"/>
<line x1="743.5" y1="89.5" x2="743.5" y2="98.7" stroke="#3a3a3a" stroke-width="0.75"/>
<line x1="746.5" y1="89.5" x2="746.5" y2="98.7" stroke="#3a3a3a" stroke-width="0.75"/>
<line x1="749.5" y1="89.5" x2="749.5" y2="98.7" stroke="#3a3a3a" stroke-width="0.75"/>
<line x1="752.5" y1="89.5" x2="752.5" y2="98.7" stroke="#3a3a3a" stroke-width="0.75"/>
<line x1="755.5" y1="89.5" x2="755.5" y2="98.7" stroke="#3a3a3a" stroke-width="0.75"/>
<line x1="758.5" y1="89.5" x2="758.5" y2="98.7" stroke="#3a3a3a" stroke-width="0.75"/>
<line x1="761.5" y1="89.5" x2="761.5" y2="98.7" stroke="#3a3a3a" stroke-width="0.75"/>
<line x1="764.5" y1="89.5" x2="764.5" y2="98.7" stroke="#3a3a3a" stroke-width="0.75"/>
<rect x="735.3" y="96.7" width="31.6" height="2.8" fill="#444" rx="1.2"/>
<line x1="734.9" y1="89.5" x2="767.3" y2="89.5" stroke="#444" stroke-width="0.9"/>
<circle cx="751.1" cy="93.59" r="1" fill="#333" stroke="none" stroke-width="0"/>
<rect x="723.5" y="146.5" width="55" height="116" fill="#dfdfdf" stroke="#555" stroke-width="1"/>
<rect x="723.5" y="146.5" width="55" height="4" fill="#d6d6d6" stroke="#444" stroke-width="0.9"/>
<line x1="723.5" y1="150.5" x2="778.5" y2="150.5" stroke="#333" stroke-width="1.2"/>
<line x1="723.5" y1="185.5" x2="778.5" y2="185.5" stroke="#555" stroke-width="1.2"/>
<line x1="723.5" y1="251.5" x2="778.5" y2="251.5" stroke="#555" stroke-width="1"/>
<rect x="718.5" y="158.5" width="5" height="8" fill="#e8e8e8" stroke="#444" stroke-width="0.8"/>
<rect x="718.5" y="169.5" width="5" height="11" fill="#e8e8e8" stroke="#444" stroke-width="0.8"/>
<rect x="723.5" y="189.5" width="5" height="9" fill="#e8e8e8" stroke="#444" stroke-width="0.8"/>
<rect x="766.5" y="257.5" width="12" height="5" fill="#d2d2d2" stroke="#2a2a2a" stroke-width="1"/>
<line x1="772.5" y1="253.5" x2="772.5" y2="264.5" stroke="#333" stroke-width="0.8"/>
<line x1="767.5" y1="259.5" x2="777" y2="259.5" stroke="#555" stroke-width="0.6"/>
<line x1="767.5" y1="261.5" x2="777" y2="261.5" stroke="#555" stroke-width="0.6"/>
<line x1="751.5" y1="84" x2="751.5" y2="266" stroke="#3e3e3e" stroke-width="0.9" stroke-dasharray="12 2 1.6 2"/>
<circle cx="736.2" cy="198.8" r="3.2" fill="#f6f6f6" stroke="#2e2e2e" stroke-width="1.0"/>
<line x1="731.7" y1="198.5" x2="740.7" y2="198.5" stroke="#333" stroke-width="0.6"/>
<line x1="736.5" y1="194.3" x2="736.5" y2="203.3" stroke="#333" stroke-width="0.6"/>
<circle cx="736.2" cy="238.5" r="3.2" fill="#f6f6f6" stroke="#2e2e2e" stroke-width="1.0"/>
<line x1="731.7" y1="238.5" x2="740.7" y2="238.5" stroke="#333" stroke-width="0.6"/>
<line x1="736.5" y1="234" x2="736.5" y2="243" stroke="#333" stroke-width="0.6"/>
<line x1="708.4" y1="180.5" x2="733.5" y2="180.5" stroke="#3c3c3c" stroke-width="0.8"/>
<polygon points="718.4,180 711.2,178.7 711.2,181.3" fill="#2e2e2e"/>
<polygon points="723.5,180 730.7,178.7 730.7,181.3" fill="#2e2e2e"/>
<text x="735.7" y="177.7" font-size="12" fill="#4c4c4c" text-anchor="middle" textLength="6.5" lengthAdjust="spacing">3</text>
<text x="657.3" y="148.9" font-size="16" fill="#626262" stroke="#626262" stroke-width="0.5" textLength="53.7" lengthAdjust="spacingAndGlyphs">Manual</text>
<text x="653" y="164.8" font-size="16" fill="#626262" stroke="#626262" stroke-width="0.5" textLength="60.8" lengthAdjust="spacingAndGlyphs">override</text>
<polyline points="671.6,151.9 704.8,151.9 717.6,162.5" stroke="#3c3c3c" stroke-width="0.8" fill="none"/>
<polygon points="718.4,163.2 713.34,160.69 715,158.69" fill="#2e2e2e"/>
<line x1="709.4" y1="198.5" x2="736" y2="198.5" stroke="#3c3c3c" stroke-width="0.8"/>
<line x1="709.4" y1="238.5" x2="736" y2="238.5" stroke="#3c3c3c" stroke-width="0.8"/>
<line x1="709.4" y1="262.5" x2="795.4" y2="262.5" stroke="#3c3c3c" stroke-width="0.8"/>
<line x1="711.5" y1="198.8" x2="711.5" y2="238.5" stroke="#3c3c3c" stroke-width="0.8"/>
<polygon points="711.4,198.8 710.1,206 712.7,206" fill="#2e2e2e"/>
<polygon points="711.4,238.5 710.1,231.3 712.7,231.3" fill="#2e2e2e"/>
<line x1="711.5" y1="238.5" x2="711.5" y2="262.5" stroke="#3c3c3c" stroke-width="0.8"/>
<polygon points="711.4,238.5 710.1,245.7 712.7,245.7" fill="#2e2e2e"/>
<polygon points="711.4,262.5 710.1,255.3 712.7,255.3" fill="#2e2e2e"/>
<text transform="translate(704.6,217.7) rotate(-90)" x="0" y="4.32" font-size="12" fill="#4c4c4c" text-anchor="middle" textLength="13.5" lengthAdjust="spacing">25</text>
<text transform="translate(704.2,248) rotate(-90)" x="0" y="4.32" font-size="12" fill="#4c4c4c" text-anchor="middle" textLength="25" lengthAdjust="spacing">15.2</text>
<text x="653.2" y="275.7" font-size="12" fill="#4c4c4c" textLength="47" lengthAdjust="spacing">2−Φ4.2</text>
<polyline points="653.2,277.9 700.3,277.9 734,242" stroke="#3c3c3c" stroke-width="0.8" fill="none"/>
<polygon points="735,241 731.01,247.14 729.12,245.35" fill="#2e2e2e"/>
<line x1="736.5" y1="241" x2="736.5" y2="281" stroke="#3c3c3c" stroke-width="0.8"/>
<line x1="723.5" y1="262.5" x2="723.5" y2="296" stroke="#3c3c3c" stroke-width="0.8"/>
<line x1="778.5" y1="262.5" x2="778.5" y2="296" stroke="#3c3c3c" stroke-width="0.8"/>
<line x1="711.5" y1="279.5" x2="748.2" y2="279.5" stroke="#3c3c3c" stroke-width="0.8"/>
<polygon points="723.5,279 716.3,277.7 716.3,280.3" fill="#2e2e2e"/>
<polygon points="736.2,279 743.4,277.7 743.4,280.3" fill="#2e2e2e"/>
<text x="737.5" y="276.5" font-size="12" fill="#4c4c4c" textLength="18.2" lengthAdjust="spacing">8.2</text>
<line x1="723.5" y1="294.5" x2="778.5" y2="294.5" stroke="#3c3c3c" stroke-width="0.8"/>
<polygon points="723.5,294.2 730.7,292.9 730.7,295.5" fill="#2e2e2e"/>
<polygon points="778.5,294.2 771.3,292.9 771.3,295.5" fill="#2e2e2e"/>
<text x="754" y="292.2" font-size="12" fill="#4c4c4c" text-anchor="middle" textLength="14.5" lengthAdjust="spacing">35</text>
<line x1="767.3" y1="89.5" x2="795" y2="89.5" stroke="#3c3c3c" stroke-width="0.8"/>
<line x1="791.5" y1="89.3" x2="791.5" y2="262.5" stroke="#3c3c3c" stroke-width="0.8"/>
<polygon points="791.7,89.3 790.4,96.5 793,96.5" fill="#2e2e2e"/>
<polygon points="791.7,262.5 790.4,255.3 793,255.3" fill="#2e2e2e"/>
<text transform="translate(786.3,176.5) rotate(-90)" x="0" y="4.32" font-size="12" fill="#4c4c4c" text-anchor="middle" textLength="21.5" lengthAdjust="spacing">109</text>
<g transform="matrix(1,0,0,1,523.4,-2.6)">
<rect x="328" y="91.7" width="32.9" height="9.7" fill="url(#kg)" stroke="#3a3a3a" stroke-width="0.9" rx="1"/>
<line x1="330.99" y1="92.2" x2="330.99" y2="100.9" stroke="#3a3a3a" stroke-width="0.75"/>
<line x1="333.98" y1="92.2" x2="333.98" y2="100.9" stroke="#3a3a3a" stroke-width="0.75"/>
<line x1="336.97" y1="92.2" x2="336.97" y2="100.9" stroke="#3a3a3a" stroke-width="0.75"/>
<line x1="339.96" y1="92.2" x2="339.96" y2="100.9" stroke="#3a3a3a" stroke-width="0.75"/>
<line x1="342.95" y1="92.2" x2="342.95" y2="100.9" stroke="#3a3a3a" stroke-width="0.75"/>
<line x1="345.95" y1="92.2" x2="345.95" y2="100.9" stroke="#3a3a3a" stroke-width="0.75"/>
<line x1="348.94" y1="92.2" x2="348.94" y2="100.9" stroke="#3a3a3a" stroke-width="0.75"/>
<line x1="351.93" y1="92.2" x2="351.93" y2="100.9" stroke="#3a3a3a" stroke-width="0.75"/>
<line x1="354.92" y1="92.2" x2="354.92" y2="100.9" stroke="#3a3a3a" stroke-width="0.75"/>
<line x1="357.91" y1="92.2" x2="357.91" y2="100.9" stroke="#3a3a3a" stroke-width="0.75"/>
<rect x="328.4" y="98.9" width="32.1" height="2.8" fill="#444" rx="1.2"/>
<line x1="328" y1="92.1" x2="360.9" y2="92.1" stroke="#444" stroke-width="0.9"/>
<circle cx="344.45" cy="96.06" r="1" fill="#333" stroke="none" stroke-width="0"/>
<rect x="326.8" y="102.1" width="35.3" height="47.2" fill="#dfdfdf" stroke="#3a3a3a" stroke-width="1" rx="1"/>
</g>
<rect x="850.5" y="146.5" width="35" height="116" fill="#dfdfdf" stroke="#555" stroke-width="1"/>
<rect x="850.5" y="146.5" width="35" height="4" fill="#e6e6e6" stroke="#333" stroke-width="1.1"/>
<line x1="850.2" y1="185.5" x2="885.5" y2="185.5" stroke="#555" stroke-width="1.2"/>
<line x1="850.2" y1="251.5" x2="885.5" y2="251.5" stroke="#555" stroke-width="1"/>
<rect x="863.5" y="183" width="8.5" height="2.6" fill="#e8e8e8" stroke="#555" stroke-width="0.7" rx="1"/>
<rect x="850.5" y="256.5" width="13" height="6" fill="#d2d2d2" stroke="#2a2a2a" stroke-width="1"/>
<line x1="856.5" y1="252.6" x2="856.5" y2="264" stroke="#333" stroke-width="0.8"/>
<line x1="852.1" y1="258.5" x2="861.5" y2="258.5" stroke="#555" stroke-width="0.6"/>
<line x1="852.1" y1="260.5" x2="861.5" y2="260.5" stroke="#555" stroke-width="0.6"/>
<line x1="867.5" y1="84" x2="867.5" y2="267" stroke="#3e3e3e" stroke-width="0.9" stroke-dasharray="12 2 1.6 2"/>
<circle cx="867.5" cy="200.6" r="7.7" fill="#e6e6e6" stroke="#2e2e2e" stroke-width="1.3"/>
<rect x="862.5" y="197.5" width="11" height="7" fill="#f2f2f2" stroke="#333" stroke-width="0.9" rx="2"/>
<line x1="867.5" y1="196.75" x2="867.5" y2="205.22" stroke="#333" stroke-width="0.8"/>
<circle cx="867.5" cy="235.9" r="7.7" fill="#e6e6e6" stroke="#2e2e2e" stroke-width="1.3"/>
<rect x="862.5" y="233.5" width="11" height="6" fill="#f2f2f2" stroke="#333" stroke-width="0.9" rx="2"/>
<line x1="867.5" y1="232.05" x2="867.5" y2="240.52" stroke="#333" stroke-width="0.8"/>
<circle cx="854" cy="195" r="2.6" fill="#f6f6f6" stroke="#2e2e2e" stroke-width="0.8"/>
<line x1="850.3" y1="195.5" x2="857.7" y2="195.5" stroke="#333" stroke-width="0.6"/>
<line x1="854.5" y1="191.3" x2="854.5" y2="198.7" stroke="#333" stroke-width="0.6"/>
<circle cx="880.9" cy="242.5" r="2.6" fill="#f6f6f6" stroke="#2e2e2e" stroke-width="0.8"/>
<line x1="877.2" y1="242.5" x2="884.6" y2="242.5" stroke="#333" stroke-width="0.6"/>
<line x1="880.5" y1="238.8" x2="880.5" y2="246.2" stroke="#333" stroke-width="0.6"/>
<line x1="838.5" y1="200.5" x2="860" y2="200.5" stroke="#3c3c3c" stroke-width="0.8"/>
<line x1="838.5" y1="235.5" x2="860" y2="235.5" stroke="#3c3c3c" stroke-width="0.8"/>
<line x1="838.5" y1="262.5" x2="851" y2="262.5" stroke="#3c3c3c" stroke-width="0.8"/>
<line x1="840.5" y1="200.6" x2="840.5" y2="235.9" stroke="#3c3c3c" stroke-width="0.8"/>
<polygon points="840.7,200.6 839.4,207.8 842,207.8" fill="#2e2e2e"/>
<polygon points="840.7,235.9 839.4,228.7 842,228.7" fill="#2e2e2e"/>
<line x1="840.5" y1="235.9" x2="840.5" y2="262" stroke="#3c3c3c" stroke-width="0.8"/>
<polygon points="840.7,235.9 839.4,243.1 842,243.1" fill="#2e2e2e"/>
<polygon points="840.7,262 839.4,254.8 842,254.8" fill="#2e2e2e"/>
<text transform="translate(834.2,218.6) rotate(-90)" x="0" y="4.32" font-size="12" fill="#4c4c4c" text-anchor="middle" textLength="8" lengthAdjust="spacing">C</text>
<text transform="translate(834.2,247.8) rotate(-90)" x="0" y="4.32" font-size="12" fill="#4c4c4c" text-anchor="middle" textLength="8" lengthAdjust="spacing">D</text>
<text transform="translate(898.2,112.1) rotate(-90)" x="0" y="4.32" font-size="12" fill="#4c4c4c" text-anchor="middle" textLength="112" lengthAdjust="spacing">3V210−06:3−G1/8</text>
<text transform="translate(911.2,112.1) rotate(-90)" x="0" y="4.32" font-size="12" fill="#4c4c4c" text-anchor="middle" textLength="112" lengthAdjust="spacing">3V210−08:3−G1/4</text>
<polyline points="903.9,52.3 903.9,171.2 875.2,193" stroke="#3c3c3c" stroke-width="0.8" fill="none"/>
<polygon points="874.4,193.7 879.34,188.3 880.91,190.37" fill="#2e2e2e"/>
<text x="38.5" y="456" font-size="18.4" fill="#1a1a1a" stroke="#1a1a1a" stroke-width="0.3" textLength="139.1" lengthAdjust="spacing">3V220 Terminal</text>
<g transform="matrix(0.845,0,0,0.845,5.2,423.76)">
<rect x="64" y="92" width="32.6" height="9.4" fill="url(#kg)" stroke="#3a3a3a" stroke-width="0.9" rx="1"/>
<line x1="66.96" y1="92.5" x2="66.96" y2="100.9" stroke="#3a3a3a" stroke-width="0.75"/>
<line x1="69.93" y1="92.5" x2="69.93" y2="100.9" stroke="#3a3a3a" stroke-width="0.75"/>
<line x1="72.89" y1="92.5" x2="72.89" y2="100.9" stroke="#3a3a3a" stroke-width="0.75"/>
<line x1="75.85" y1="92.5" x2="75.85" y2="100.9" stroke="#3a3a3a" stroke-width="0.75"/>
<line x1="78.82" y1="92.5" x2="78.82" y2="100.9" stroke="#3a3a3a" stroke-width="0.75"/>
<line x1="81.78" y1="92.5" x2="81.78" y2="100.9" stroke="#3a3a3a" stroke-width="0.75"/>
<line x1="84.75" y1="92.5" x2="84.75" y2="100.9" stroke="#3a3a3a" stroke-width="0.75"/>
<line x1="87.71" y1="92.5" x2="87.71" y2="100.9" stroke="#3a3a3a" stroke-width="0.75"/>
<line x1="90.67" y1="92.5" x2="90.67" y2="100.9" stroke="#3a3a3a" stroke-width="0.75"/>
<line x1="93.64" y1="92.5" x2="93.64" y2="100.9" stroke="#3a3a3a" stroke-width="0.75"/>
<rect x="64.4" y="98.9" width="31.8" height="2.8" fill="#444" rx="1.2"/>
<line x1="64" y1="92.4" x2="96.6" y2="92.4" stroke="#444" stroke-width="0.9"/>
<circle cx="80.3" cy="96.23" r="1" fill="#333" stroke="none" stroke-width="0"/>
<rect x="62.9" y="101.7" width="34.8" height="47" fill="#dfdfdf" stroke="#333" stroke-width="1.6" rx="2"/>
<circle cx="80.3" cy="125.6" r="4.9" fill="#c8c8c8" stroke="#222" stroke-width="1.7"/>
<line x1="77.6" y1="125.6" x2="83" y2="125.6" stroke="#222" stroke-width="0.8"/>
<line x1="80.3" y1="122.9" x2="80.3" y2="128.3" stroke="#222" stroke-width="0.8"/>
<path d="M71.5,148.7 C73,142 76,138 80.3,138 C84.6,138 87.6,142 89,148.7" stroke="#333" stroke-width="0.9" fill="none"/>
<rect x="64.7" y="148.7" width="31.2" height="19.1" fill="#dfdfdf" stroke="#555" stroke-width="0.9"/>
<rect x="62.6" y="149" width="2.1" height="4" fill="#bbb" stroke="#444" stroke-width="0.6"/>
<rect x="95.9" y="149" width="2.1" height="4" fill="#bbb" stroke="#444" stroke-width="0.6"/>
<rect x="65.8" y="168.4" width="29" height="2.4" fill="#e4e4e4" stroke="#444" stroke-width="0.8"/>
<rect x="65.3" y="171.4" width="30" height="2.8" fill="#e4e4e4" stroke="#333" stroke-width="0.9"/>
<rect x="65.3" y="174.8" width="30" height="4.5" fill="#d0d0d0" stroke="#2e2e2e" stroke-width="1.1"/>
<line x1="69.5" y1="174.8" x2="69.5" y2="179.3" stroke="#333" stroke-width="0.7"/>
<line x1="75.5" y1="174.8" x2="75.5" y2="179.3" stroke="#333" stroke-width="0.7"/>
<line x1="80.3" y1="174.8" x2="80.3" y2="179.3" stroke="#333" stroke-width="0.7"/>
<line x1="85" y1="174.8" x2="85" y2="179.3" stroke="#333" stroke-width="0.7"/>
<line x1="91" y1="174.8" x2="91" y2="179.3" stroke="#333" stroke-width="0.7"/>
</g>
<g transform="matrix(0.845,0,0,-0.845,5.2,795.3)">
<rect x="64" y="92" width="32.6" height="9.4" fill="url(#kg)" stroke="#3a3a3a" stroke-width="0.9" rx="1"/>
<line x1="66.96" y1="92.5" x2="66.96" y2="100.9" stroke="#3a3a3a" stroke-width="0.75"/>
<line x1="69.93" y1="92.5" x2="69.93" y2="100.9" stroke="#3a3a3a" stroke-width="0.75"/>
<line x1="72.89" y1="92.5" x2="72.89" y2="100.9" stroke="#3a3a3a" stroke-width="0.75"/>
<line x1="75.85" y1="92.5" x2="75.85" y2="100.9" stroke="#3a3a3a" stroke-width="0.75"/>
<line x1="78.82" y1="92.5" x2="78.82" y2="100.9" stroke="#3a3a3a" stroke-width="0.75"/>
<line x1="81.78" y1="92.5" x2="81.78" y2="100.9" stroke="#3a3a3a" stroke-width="0.75"/>
<line x1="84.75" y1="92.5" x2="84.75" y2="100.9" stroke="#3a3a3a" stroke-width="0.75"/>
<line x1="87.71" y1="92.5" x2="87.71" y2="100.9" stroke="#3a3a3a" stroke-width="0.75"/>
<line x1="90.67" y1="92.5" x2="90.67" y2="100.9" stroke="#3a3a3a" stroke-width="0.75"/>
<line x1="93.64" y1="92.5" x2="93.64" y2="100.9" stroke="#3a3a3a" stroke-width="0.75"/>
<rect x="64.4" y="98.9" width="31.8" height="2.8" fill="#444" rx="1.2"/>
<line x1="64" y1="92.4" x2="96.6" y2="92.4" stroke="#444" stroke-width="0.9"/>
<circle cx="80.3" cy="96.23" r="1" fill="#333" stroke="none" stroke-width="0"/>
<rect x="62.9" y="101.7" width="34.8" height="47" fill="#dfdfdf" stroke="#333" stroke-width="1.6" rx="2"/>
<circle cx="80.3" cy="125.6" r="4.9" fill="#c8c8c8" stroke="#222" stroke-width="1.7"/>
<line x1="77.6" y1="125.6" x2="83" y2="125.6" stroke="#222" stroke-width="0.8"/>
<line x1="80.3" y1="122.9" x2="80.3" y2="128.3" stroke="#222" stroke-width="0.8"/>
<path d="M71.5,148.7 C73,142 76,138 80.3,138 C84.6,138 87.6,142 89,148.7" stroke="#333" stroke-width="0.9" fill="none"/>
<rect x="64.7" y="148.7" width="31.2" height="19.1" fill="#dfdfdf" stroke="#555" stroke-width="0.9"/>
<rect x="62.6" y="149" width="2.1" height="4" fill="#bbb" stroke="#444" stroke-width="0.6"/>
<rect x="95.9" y="149" width="2.1" height="4" fill="#bbb" stroke="#444" stroke-width="0.6"/>
<rect x="65.8" y="168.4" width="29" height="2.4" fill="#e4e4e4" stroke="#444" stroke-width="0.8"/>
<rect x="65.3" y="171.4" width="30" height="2.8" fill="#e4e4e4" stroke="#333" stroke-width="0.9"/>
<rect x="65.3" y="174.8" width="30" height="4.5" fill="#d0d0d0" stroke="#2e2e2e" stroke-width="1.1"/>
<line x1="69.5" y1="174.8" x2="69.5" y2="179.3" stroke="#333" stroke-width="0.7"/>
<line x1="75.5" y1="174.8" x2="75.5" y2="179.3" stroke="#333" stroke-width="0.7"/>
<line x1="80.3" y1="174.8" x2="80.3" y2="179.3" stroke="#333" stroke-width="0.7"/>
<line x1="85" y1="174.8" x2="85" y2="179.3" stroke="#333" stroke-width="0.7"/>
<line x1="91" y1="174.8" x2="91" y2="179.3" stroke="#333" stroke-width="0.7"/>
</g>
<rect x="58.5" y="575.5" width="29" height="69" fill="#dfdfdf" stroke="#555" stroke-width="1"/>
<line x1="58.7" y1="581.5" x2="87.3" y2="581.5" stroke="#555" stroke-width="1.2"/>
<line x1="58.7" y1="637.5" x2="87.3" y2="637.5" stroke="#555" stroke-width="1.2"/>
<line x1="73.5" y1="495" x2="73.5" y2="721" stroke="#3e3e3e" stroke-width="0.9" stroke-dasharray="12 2 1.6 2"/>
<line x1="84.5" y1="589" x2="84.5" y2="735" stroke="#3c3c3c" stroke-width="0.8"/>
<line x1="61.5" y1="629" x2="61.5" y2="735" stroke="#3c3c3c" stroke-width="0.8"/>
<circle cx="84.1" cy="589.1" r="3" fill="#f6f6f6" stroke="#2e2e2e" stroke-width="1.0"/>
<line x1="79.8" y1="589.5" x2="88.4" y2="589.5" stroke="#333" stroke-width="0.6"/>
<line x1="84.5" y1="584.8" x2="84.5" y2="593.4" stroke="#333" stroke-width="0.6"/>
<circle cx="61.8" cy="629.4" r="3" fill="#f6f6f6" stroke="#2e2e2e" stroke-width="1.0"/>
<line x1="57.5" y1="629.5" x2="66.1" y2="629.5" stroke="#333" stroke-width="0.6"/>
<line x1="61.5" y1="625.1" x2="61.5" y2="633.7" stroke="#333" stroke-width="0.6"/>
<circle cx="74.6" cy="608.3" r="8.6" fill="#e4e4e4" stroke="#2e2e2e" stroke-width="1.2"/>
<polygon points="69.13,605.73 75.08,605.73 77.73,608.62 75.08,611.68 69.13,611.68" fill="#f0f0f0" stroke="#333" stroke-width="0.9"/>
<line x1="72.5" y1="604.68" x2="72.5" y2="612.48" stroke="#333" stroke-width="0.8"/>
<line x1="65" y1="608.5" x2="84.2" y2="608.5" stroke="#555" stroke-width="0.6"/>
<circle cx="72.83" cy="613.93" r="0.6" fill="#333" stroke="none" stroke-width="0"/>
<text transform="translate(96.4,553.7) rotate(-90)" x="0" y="4.32" font-size="12" fill="#4c4c4c" text-anchor="middle" textLength="46" lengthAdjust="spacing">2−Φ3.3</text>
<polyline points="103.4,534 103.4,576 88,586.8" stroke="#3c3c3c" stroke-width="0.8" fill="none"/>
<polygon points="87,587.5 92.15,582.3 93.64,584.43" fill="#2e2e2e"/>
<line x1="86" y1="589.5" x2="103" y2="589.5" stroke="#3c3c3c" stroke-width="0.8"/>
<line x1="60" y1="629.5" x2="103" y2="629.5" stroke="#3c3c3c" stroke-width="0.8"/>
<line x1="48" y1="717.5" x2="103" y2="717.5" stroke="#3c3c3c" stroke-width="0.8"/>
<line x1="101.5" y1="589.1" x2="101.5" y2="629.4" stroke="#3c3c3c" stroke-width="0.8"/>
<polygon points="101.1,589.1 99.8,596.3 102.4,596.3" fill="#2e2e2e"/>
<polygon points="101.1,629.4 99.8,622.2 102.4,622.2" fill="#2e2e2e"/>
<line x1="101.5" y1="629.4" x2="101.5" y2="717.6" stroke="#3c3c3c" stroke-width="0.8"/>
<polygon points="101.1,629.4 99.8,636.6 102.4,636.6" fill="#2e2e2e"/>
<polygon points="101.1,717.6 99.8,710.4 102.4,710.4" fill="#2e2e2e"/>
<text transform="translate(96.3,608.7) rotate(-90)" x="0" y="4.32" font-size="12" fill="#4c4c4c" text-anchor="middle" textLength="13.8" lengthAdjust="spacing">30</text>
<text transform="translate(95.8,671.8) rotate(-90)" x="0" y="4.32" font-size="12" fill="#4c4c4c" text-anchor="middle" textLength="25.6" lengthAdjust="spacing">66.4</text>
<line x1="48" y1="608.5" x2="66" y2="608.5" stroke="#3c3c3c" stroke-width="0.8"/>
<line x1="50.5" y1="608.3" x2="50.5" y2="717.6" stroke="#3c3c3c" stroke-width="0.8"/>
<polygon points="50.2,608.3 48.9,615.5 51.5,615.5" fill="#2e2e2e"/>
<polygon points="50.2,717.6 48.9,710.4 51.5,710.4" fill="#2e2e2e"/>
<text transform="translate(44.3,654.9) rotate(-90)" x="0" y="4.32" font-size="12" fill="#4c4c4c" text-anchor="middle" textLength="8" lengthAdjust="spacing">A</text>
<line x1="59.7" y1="595.5" x2="88.1" y2="595.5" stroke="#3c3c3c" stroke-width="0.8"/>
<polygon points="73.2,595.3 66,594 66,596.6" fill="#2e2e2e"/>
<polygon points="74.6,595.3 81.8,594 81.8,596.6" fill="#2e2e2e"/>
<line x1="49.3" y1="595.5" x2="62" y2="595.5" stroke="#3c3c3c" stroke-width="0.8"/>
<text x="53.8" y="593.4" font-size="12" fill="#4c4c4c" text-anchor="middle" textLength="7.5" lengthAdjust="spacing">B</text>
<line x1="58.5" y1="718" x2="58.5" y2="748" stroke="#3c3c3c" stroke-width="0.8"/>
<line x1="87.5" y1="718" x2="87.5" y2="748" stroke="#3c3c3c" stroke-width="0.8"/>
<line x1="61.8" y1="733.5" x2="84.1" y2="733.5" stroke="#3c3c3c" stroke-width="0.8"/>
<polygon points="61.8,733.6 69,732.3 69,734.9" fill="#2e2e2e"/>
<polygon points="84.1,733.6 76.9,732.3 76.9,734.9" fill="#2e2e2e"/>
<text x="75.6" y="731.4" font-size="12" fill="#4c4c4c" text-anchor="middle" textLength="12.5" lengthAdjust="spacing">17</text>
<line x1="58.7" y1="745.5" x2="87.3" y2="745.5" stroke="#3c3c3c" stroke-width="0.8"/>
<polygon points="58.7,745.8 65.9,744.5 65.9,747.1" fill="#2e2e2e"/>
<polygon points="87.3,745.8 80.1,744.5 80.1,747.1" fill="#2e2e2e"/>
<text x="75.6" y="744.1" font-size="12" fill="#4c4c4c" text-anchor="middle" textLength="13.5" lengthAdjust="spacing">22</text>
<line x1="152.5" y1="476" x2="152.5" y2="560" stroke="#3c3c3c" stroke-width="0.8"/>
<line x1="241.5" y1="476" x2="241.5" y2="549" stroke="#3c3c3c" stroke-width="0.8"/>
<line x1="152.2" y1="483.5" x2="241.5" y2="483.5" stroke="#3c3c3c" stroke-width="0.8"/>
<polygon points="152.2,483.1 159.4,481.8 159.4,484.4" fill="#2e2e2e"/>
<polygon points="241.5,483.1 234.3,481.8 234.3,484.4" fill="#2e2e2e"/>
<text x="200.6" y="481.5" font-size="12" fill="#4c4c4c" text-anchor="middle" textLength="25.5" lengthAdjust="spacing">66.7</text>
<line x1="164.5" y1="490" x2="164.5" y2="512" stroke="#3c3c3c" stroke-width="0.8"/>
<line x1="217.5" y1="490" x2="217.5" y2="501" stroke="#3c3c3c" stroke-width="0.8"/>
<line x1="164.6" y1="494.5" x2="217.5" y2="494.5" stroke="#3c3c3c" stroke-width="0.8"/>
<polygon points="164.6,494.7 171.8,493.4 171.8,496" fill="#2e2e2e"/>
<polygon points="217.5,494.7 210.3,493.4 210.3,496" fill="#2e2e2e"/>
<text x="194" y="493.9" font-size="12" fill="#4c4c4c" text-anchor="middle" textLength="14" lengthAdjust="spacing">40</text>
<g transform="matrix(0.845,0,0,0.845,25.23,423.5)">
<rect x="149.6" y="148.2" width="30" height="20.5" fill="#dfdfdf" stroke="#555" stroke-width="0.9"/>
<rect x="150.6" y="168.7" width="28" height="2.5" fill="#e4e4e4" stroke="#444" stroke-width="0.8"/>
<rect x="150.2" y="171.7" width="28.8" height="2.5" fill="#e4e4e4" stroke="#333" stroke-width="0.9"/>
<rect x="150.2" y="174.6" width="28.8" height="4.7" fill="#d0d0d0" stroke="#2e2e2e" stroke-width="1.1"/>
<line x1="154" y1="174.6" x2="154" y2="179.3" stroke="#333" stroke-width="0.7"/>
<line x1="159" y1="174.6" x2="159" y2="179.3" stroke="#333" stroke-width="0.7"/>
<line x1="164.4" y1="174.6" x2="164.4" y2="179.3" stroke="#333" stroke-width="0.7"/>
<line x1="170" y1="174.6" x2="170" y2="179.3" stroke="#333" stroke-width="0.7"/>
<line x1="175" y1="174.6" x2="175" y2="179.3" stroke="#333" stroke-width="0.7"/>
<path d="M155,102.5 L196.2,102.5 Q198.2,102.5 198.2,104.5 L198.2,148.2 L154.5,148.2 Q152,148.2 152,145.7 L152,105.5 Q152,102.5 155,102.5 Z" stroke="#3a3a3a" stroke-width="1.1" fill="#dfdfdf"/>
<path d="M152,137 Q150.2,141 151,146" stroke="#444" stroke-width="0.8" fill="none"/>
<rect x="200.4" y="101.5" width="48.6" height="47.3" fill="#dfdfdf" stroke="#3a3a3a" stroke-width="1" rx="1"/>
<line x1="199.3" y1="103" x2="199.3" y2="148.2" stroke="#666" stroke-width="0.8"/>
<rect x="212.2" y="92.1" width="31.2" height="9.2" fill="url(#kg)" stroke="#3a3a3a" stroke-width="0.9" rx="1"/>
<line x1="215.32" y1="92.6" x2="215.32" y2="100.8" stroke="#3a3a3a" stroke-width="0.75"/>
<line x1="218.44" y1="92.6" x2="218.44" y2="100.8" stroke="#3a3a3a" stroke-width="0.75"/>
<line x1="221.56" y1="92.6" x2="221.56" y2="100.8" stroke="#3a3a3a" stroke-width="0.75"/>
<line x1="224.68" y1="92.6" x2="224.68" y2="100.8" stroke="#3a3a3a" stroke-width="0.75"/>
<line x1="227.8" y1="92.6" x2="227.8" y2="100.8" stroke="#3a3a3a" stroke-width="0.75"/>
<line x1="230.92" y1="92.6" x2="230.92" y2="100.8" stroke="#3a3a3a" stroke-width="0.75"/>
<line x1="234.04" y1="92.6" x2="234.04" y2="100.8" stroke="#3a3a3a" stroke-width="0.75"/>
<line x1="237.16" y1="92.6" x2="237.16" y2="100.8" stroke="#3a3a3a" stroke-width="0.75"/>
<line x1="240.28" y1="92.6" x2="240.28" y2="100.8" stroke="#3a3a3a" stroke-width="0.75"/>
<rect x="212.6" y="98.8" width="30.4" height="2.8" fill="#444" rx="1.2"/>
<line x1="212.2" y1="92.5" x2="243.4" y2="92.5" stroke="#444" stroke-width="0.9"/>
<circle cx="227.8" cy="96.24" r="1" fill="#333" stroke="none" stroke-width="0"/>
<line x1="150" y1="125.4" x2="203" y2="125.4" stroke="#3e3e3e" stroke-width="0.9" stroke-dasharray="12 2 1.6 2"/>
<line x1="164.4" y1="102" x2="164.4" y2="180" stroke="#3a3a3a" stroke-width="0.9"/>
</g>
<g transform="matrix(0.845,0,0,-0.845,26.1,796.4)">
<rect x="149.6" y="148.2" width="30" height="20.5" fill="#dfdfdf" stroke="#555" stroke-width="0.9"/>
<rect x="150.6" y="168.7" width="28" height="2.5" fill="#e4e4e4" stroke="#444" stroke-width="0.8"/>
<rect x="150.2" y="171.7" width="28.8" height="2.5" fill="#e4e4e4" stroke="#333" stroke-width="0.9"/>
<rect x="150.2" y="174.6" width="28.8" height="4.7" fill="#d0d0d0" stroke="#2e2e2e" stroke-width="1.1"/>
<line x1="154" y1="174.6" x2="154" y2="179.3" stroke="#333" stroke-width="0.7"/>
<line x1="159" y1="174.6" x2="159" y2="179.3" stroke="#333" stroke-width="0.7"/>
<line x1="164.4" y1="174.6" x2="164.4" y2="179.3" stroke="#333" stroke-width="0.7"/>
<line x1="170" y1="174.6" x2="170" y2="179.3" stroke="#333" stroke-width="0.7"/>
<line x1="175" y1="174.6" x2="175" y2="179.3" stroke="#333" stroke-width="0.7"/>
<path d="M155,102.5 L196.2,102.5 Q198.2,102.5 198.2,104.5 L198.2,148.2 L154.5,148.2 Q152,148.2 152,145.7 L152,105.5 Q152,102.5 155,102.5 Z" stroke="#3a3a3a" stroke-width="1.1" fill="#dfdfdf"/>
<path d="M152,137 Q150.2,141 151,146" stroke="#444" stroke-width="0.8" fill="none"/>
<rect x="200.4" y="101.5" width="48.6" height="47.3" fill="#dfdfdf" stroke="#3a3a3a" stroke-width="1" rx="1"/>
<line x1="199.3" y1="103" x2="199.3" y2="148.2" stroke="#666" stroke-width="0.8"/>
<rect x="212.2" y="92.1" width="31.2" height="9.2" fill="url(#kg)" stroke="#3a3a3a" stroke-width="0.9" rx="1"/>
<line x1="215.32" y1="92.6" x2="215.32" y2="100.8" stroke="#3a3a3a" stroke-width="0.75"/>
<line x1="218.44" y1="92.6" x2="218.44" y2="100.8" stroke="#3a3a3a" stroke-width="0.75"/>
<line x1="221.56" y1="92.6" x2="221.56" y2="100.8" stroke="#3a3a3a" stroke-width="0.75"/>
<line x1="224.68" y1="92.6" x2="224.68" y2="100.8" stroke="#3a3a3a" stroke-width="0.75"/>
<line x1="227.8" y1="92.6" x2="227.8" y2="100.8" stroke="#3a3a3a" stroke-width="0.75"/>
<line x1="230.92" y1="92.6" x2="230.92" y2="100.8" stroke="#3a3a3a" stroke-width="0.75"/>
<line x1="234.04" y1="92.6" x2="234.04" y2="100.8" stroke="#3a3a3a" stroke-width="0.75"/>
<line x1="237.16" y1="92.6" x2="237.16" y2="100.8" stroke="#3a3a3a" stroke-width="0.75"/>
<line x1="240.28" y1="92.6" x2="240.28" y2="100.8" stroke="#3a3a3a" stroke-width="0.75"/>
<rect x="212.6" y="98.8" width="30.4" height="2.8" fill="#444" rx="1.2"/>
<line x1="212.2" y1="92.5" x2="243.4" y2="92.5" stroke="#444" stroke-width="0.9"/>
<circle cx="227.8" cy="96.24" r="1" fill="#333" stroke="none" stroke-width="0"/>
<line x1="150" y1="125.4" x2="203" y2="125.4" stroke="#3e3e3e" stroke-width="0.9" stroke-dasharray="12 2 1.6 2"/>
<line x1="164.4" y1="102" x2="164.4" y2="180" stroke="#3a3a3a" stroke-width="0.9"/>
</g>
<rect x="194.5" y="549.5" width="47" height="121" fill="#dfdfdf" stroke="#555" stroke-width="1"/>
<rect x="194.5" y="549.5" width="47" height="3" fill="#e6e6e6" stroke="#333" stroke-width="1.1"/>
<rect x="195.5" y="667.5" width="46" height="3" fill="#e6e6e6" stroke="#333" stroke-width="1.1"/>
<line x1="195.3" y1="581.5" x2="241.5" y2="581.5" stroke="#555" stroke-width="1.2"/>
<line x1="195.3" y1="637.5" x2="241.5" y2="637.5" stroke="#555" stroke-width="1.2"/>
<line x1="218.5" y1="581.5" x2="218.5" y2="637.3" stroke="#555" stroke-width="1"/>
<rect x="191.5" y="559.5" width="4" height="16" fill="#e8e8e8" stroke="#444" stroke-width="0.8"/>
<rect x="195.5" y="585.5" width="4" height="7" fill="#e8e8e8" stroke="#444" stroke-width="0.8"/>
<rect x="190.5" y="650.5" width="5" height="9" fill="#e8e8e8" stroke="#444" stroke-width="0.8"/>
<line x1="217.5" y1="490" x2="217.5" y2="720" stroke="#3e3e3e" stroke-width="0.9" stroke-dasharray="12 2 1.6 2"/>
<circle cx="205.4" cy="593.1" r="3" fill="#f6f6f6" stroke="#2e2e2e" stroke-width="1.0"/>
<line x1="201.1" y1="593.5" x2="209.7" y2="593.5" stroke="#333" stroke-width="0.6"/>
<line x1="205.5" y1="588.8" x2="205.5" y2="597.4" stroke="#333" stroke-width="0.6"/>
<circle cx="205.4" cy="626.6" r="3" fill="#f6f6f6" stroke="#2e2e2e" stroke-width="1.0"/>
<line x1="201.1" y1="626.5" x2="209.7" y2="626.5" stroke="#333" stroke-width="0.6"/>
<line x1="205.5" y1="622.3" x2="205.5" y2="630.9" stroke="#333" stroke-width="0.6"/>
<line x1="181" y1="575.5" x2="205.3" y2="575.5" stroke="#3c3c3c" stroke-width="0.8"/>
<polygon points="191,575.7 183.8,574.4 183.8,577" fill="#2e2e2e"/>
<polygon points="195.3,575.7 202.5,574.4 202.5,577" fill="#2e2e2e"/>
<text x="208" y="574" font-size="12" fill="#4c4c4c" text-anchor="middle" textLength="6" lengthAdjust="spacing">3</text>
<text x="147.1" y="605.1" font-size="12" fill="#4c4c4c" textLength="47.2" lengthAdjust="spacing">2−Φ4.2</text>
<polyline points="147.1,607.6 190.5,607.6 203.6,595.2" stroke="#3c3c3c" stroke-width="0.8" fill="none"/>
<polygon points="204.4,594.4 200.07,600.3 198.28,598.42" fill="#2e2e2e"/>
<line x1="205.5" y1="617.6" x2="205.5" y2="624" stroke="#3c3c3c" stroke-width="0.8"/>
<line x1="183.3" y1="617.5" x2="217.4" y2="617.5" stroke="#3c3c3c" stroke-width="0.8"/>
<polygon points="195.3,617.6 188.1,616.3 188.1,618.9" fill="#2e2e2e"/>
<polygon points="205.4,617.6 212.6,616.3 212.6,618.9" fill="#2e2e2e"/>
<text x="195.3" y="615.2" font-size="12" fill="#4c4c4c" textLength="17" lengthAdjust="spacing">8.2</text>
<text x="124.5" y="621.8" font-size="16" fill="#626262" stroke="#626262" stroke-width="0.5" textLength="53.8" lengthAdjust="spacingAndGlyphs">Manual</text>
<text x="124.5" y="635.3" font-size="16" fill="#626262" stroke="#626262" stroke-width="0.5" textLength="59.8" lengthAdjust="spacingAndGlyphs">override</text>
<polyline points="147,636.3 176.3,636.3 190.3,653.5" stroke="#3c3c3c" stroke-width="0.8" fill="none"/>
<polygon points="191,654.4 186.52,650.95 188.54,649.31" fill="#2e2e2e"/>
<line x1="207" y1="593.5" x2="255.5" y2="593.5" stroke="#3c3c3c" stroke-width="0.8"/>
<line x1="207" y1="626.5" x2="255.5" y2="626.5" stroke="#3c3c3c" stroke-width="0.8"/>
<line x1="253.5" y1="593.1" x2="253.5" y2="626.6" stroke="#3c3c3c" stroke-width="0.8"/>
<polygon points="253.6,593.1 252.3,600.3 254.9,600.3" fill="#2e2e2e"/>
<polygon points="253.6,626.6 252.3,619.4 254.9,619.4" fill="#2e2e2e"/>
<line x1="253.5" y1="626.6" x2="253.5" y2="718.6" stroke="#3c3c3c" stroke-width="0.8"/>
<polygon points="253.6,626.6 252.3,633.8 254.9,633.8" fill="#2e2e2e"/>
<polygon points="253.6,718.6 252.3,711.4 254.9,711.4" fill="#2e2e2e"/>
<text transform="translate(247.6,609.6) rotate(-90)" x="0" y="4.32" font-size="12" fill="#4c4c4c" text-anchor="middle" textLength="13" lengthAdjust="spacing">25</text>
<text transform="translate(248,672.9) rotate(-90)" x="0" y="4.32" font-size="12" fill="#4c4c4c" text-anchor="middle" textLength="13" lengthAdjust="spacing">69</text>
<line x1="232" y1="501.5" x2="271.2" y2="501.5" stroke="#3c3c3c" stroke-width="0.8"/>
<line x1="231.5" y1="718.5" x2="270.6" y2="718.5" stroke="#3c3c3c" stroke-width="0.8"/>
<line x1="268.5" y1="501.3" x2="268.5" y2="718.6" stroke="#3c3c3c" stroke-width="0.8"/>
<polygon points="268.6,501.3 267.3,508.5 269.9,508.5" fill="#2e2e2e"/>
<polygon points="268.6,718.6 267.3,711.4 269.9,711.4" fill="#2e2e2e"/>
<text transform="translate(262.2,607.6) rotate(-90)" x="0" y="4.32" font-size="12" fill="#4c4c4c" text-anchor="middle" textLength="31" lengthAdjust="spacing">162.8</text>
<line x1="195.5" y1="710" x2="195.5" y2="736" stroke="#3c3c3c" stroke-width="0.8"/>
<line x1="241.5" y1="710" x2="241.5" y2="736" stroke="#3c3c3c" stroke-width="0.8"/>
<line x1="195.3" y1="733.5" x2="241.5" y2="733.5" stroke="#3c3c3c" stroke-width="0.8"/>
<polygon points="195.3,733.7 202.5,732.4 202.5,735" fill="#2e2e2e"/>
<polygon points="241.5,733.7 234.3,732.4 234.3,735" fill="#2e2e2e"/>
<text x="219" y="732.7" font-size="12" fill="#4c4c4c" text-anchor="middle" textLength="15" lengthAdjust="spacing">35</text>
<g transform="matrix(0.845,0,0,0.845,45.95,423.9)">
<rect x="328" y="91.7" width="32.9" height="9.7" fill="url(#kg)" stroke="#3a3a3a" stroke-width="0.9" rx="1"/>
<line x1="330.99" y1="92.2" x2="330.99" y2="100.9" stroke="#3a3a3a" stroke-width="0.75"/>
<line x1="333.98" y1="92.2" x2="333.98" y2="100.9" stroke="#3a3a3a" stroke-width="0.75"/>
<line x1="336.97" y1="92.2" x2="336.97" y2="100.9" stroke="#3a3a3a" stroke-width="0.75"/>
<line x1="339.96" y1="92.2" x2="339.96" y2="100.9" stroke="#3a3a3a" stroke-width="0.75"/>
<line x1="342.95" y1="92.2" x2="342.95" y2="100.9" stroke="#3a3a3a" stroke-width="0.75"/>
<line x1="345.95" y1="92.2" x2="345.95" y2="100.9" stroke="#3a3a3a" stroke-width="0.75"/>
<line x1="348.94" y1="92.2" x2="348.94" y2="100.9" stroke="#3a3a3a" stroke-width="0.75"/>
<line x1="351.93" y1="92.2" x2="351.93" y2="100.9" stroke="#3a3a3a" stroke-width="0.75"/>
<line x1="354.92" y1="92.2" x2="354.92" y2="100.9" stroke="#3a3a3a" stroke-width="0.75"/>
<line x1="357.91" y1="92.2" x2="357.91" y2="100.9" stroke="#3a3a3a" stroke-width="0.75"/>
<rect x="328.4" y="98.9" width="32.1" height="2.8" fill="#444" rx="1.2"/>
<line x1="328" y1="92.1" x2="360.9" y2="92.1" stroke="#444" stroke-width="0.9"/>
<circle cx="344.45" cy="96.06" r="1" fill="#333" stroke="none" stroke-width="0"/>
<rect x="326.8" y="102.1" width="35.3" height="47.2" fill="#dfdfdf" stroke="#3a3a3a" stroke-width="1" rx="1"/>
</g>
<g transform="matrix(0.845,0,0,-0.845,46.35,795.5)">
<rect x="328" y="91.7" width="32.9" height="9.7" fill="url(#kg)" stroke="#3a3a3a" stroke-width="0.9" rx="1"/>
<line x1="330.99" y1="92.2" x2="330.99" y2="100.9" stroke="#3a3a3a" stroke-width="0.75"/>
<line x1="333.98" y1="92.2" x2="333.98" y2="100.9" stroke="#3a3a3a" stroke-width="0.75"/>
<line x1="336.97" y1="92.2" x2="336.97" y2="100.9" stroke="#3a3a3a" stroke-width="0.75"/>
<line x1="339.96" y1="92.2" x2="339.96" y2="100.9" stroke="#3a3a3a" stroke-width="0.75"/>
<line x1="342.95" y1="92.2" x2="342.95" y2="100.9" stroke="#3a3a3a" stroke-width="0.75"/>
<line x1="345.95" y1="92.2" x2="345.95" y2="100.9" stroke="#3a3a3a" stroke-width="0.75"/>
<line x1="348.94" y1="92.2" x2="348.94" y2="100.9" stroke="#3a3a3a" stroke-width="0.75"/>
<line x1="351.93" y1="92.2" x2="351.93" y2="100.9" stroke="#3a3a3a" stroke-width="0.75"/>
<line x1="354.92" y1="92.2" x2="354.92" y2="100.9" stroke="#3a3a3a" stroke-width="0.75"/>
<line x1="357.91" y1="92.2" x2="357.91" y2="100.9" stroke="#3a3a3a" stroke-width="0.75"/>
<rect x="328.4" y="98.9" width="32.1" height="2.8" fill="#444" rx="1.2"/>
<line x1="328" y1="92.1" x2="360.9" y2="92.1" stroke="#444" stroke-width="0.9"/>
<circle cx="344.45" cy="96.06" r="1" fill="#333" stroke="none" stroke-width="0"/>
<rect x="326.8" y="102.1" width="35.3" height="47.2" fill="#dfdfdf" stroke="#3a3a3a" stroke-width="1" rx="1"/>
</g>
<rect x="322.5" y="549.5" width="29" height="121" fill="#dfdfdf" stroke="#555" stroke-width="1"/>
<rect x="322.5" y="549.5" width="29" height="3" fill="#e6e6e6" stroke="#333" stroke-width="1.1"/>
<rect x="322.5" y="667.5" width="29" height="3" fill="#e6e6e6" stroke="#333" stroke-width="1.1"/>
<line x1="322.3" y1="580.5" x2="351.6" y2="580.5" stroke="#555" stroke-width="1.2"/>
<line x1="322.3" y1="637.5" x2="351.6" y2="637.5" stroke="#555" stroke-width="1.2"/>
<line x1="336.5" y1="497" x2="336.5" y2="721" stroke="#3e3e3e" stroke-width="0.9" stroke-dasharray="12 2 1.6 2"/>
<circle cx="336.7" cy="594.2" r="7" fill="#e6e6e6" stroke="#2e2e2e" stroke-width="1.3"/>
<rect x="331.5" y="591.5" width="10" height="6" fill="#f2f2f2" stroke="#333" stroke-width="0.9" rx="2"/>
<line x1="336.5" y1="590.7" x2="336.5" y2="598.4" stroke="#333" stroke-width="0.8"/>
<circle cx="336.7" cy="624.4" r="7" fill="#e6e6e6" stroke="#2e2e2e" stroke-width="1.3"/>
<rect x="331.5" y="621.5" width="10" height="6" fill="#f2f2f2" stroke="#333" stroke-width="0.9" rx="2"/>
<line x1="336.5" y1="620.9" x2="336.5" y2="628.6" stroke="#333" stroke-width="0.8"/>
<circle cx="325.4" cy="589.5" r="2.4" fill="#f6f6f6" stroke="#2e2e2e" stroke-width="0.8"/>
<line x1="321.9" y1="589.5" x2="328.9" y2="589.5" stroke="#333" stroke-width="0.6"/>
<line x1="325.5" y1="586" x2="325.5" y2="593" stroke="#333" stroke-width="0.6"/>
<circle cx="348.4" cy="629.5" r="2.4" fill="#f6f6f6" stroke="#2e2e2e" stroke-width="0.8"/>
<line x1="344.9" y1="629.5" x2="351.9" y2="629.5" stroke="#333" stroke-width="0.6"/>
<line x1="348.5" y1="626" x2="348.5" y2="633" stroke="#333" stroke-width="0.6"/>
<line x1="312.1" y1="594.5" x2="330" y2="594.5" stroke="#3c3c3c" stroke-width="0.8"/>
<line x1="312.1" y1="624.5" x2="330" y2="624.5" stroke="#3c3c3c" stroke-width="0.8"/>
<line x1="312.1" y1="718.5" x2="324" y2="718.5" stroke="#3c3c3c" stroke-width="0.8"/>
<line x1="314.5" y1="594.2" x2="314.5" y2="624.4" stroke="#3c3c3c" stroke-width="0.8"/>
<polygon points="314.4,594.2 313.1,601.4 315.7,601.4" fill="#2e2e2e"/>
<polygon points="314.4,624.4 313.1,617.2 315.7,617.2" fill="#2e2e2e"/>
<line x1="314.5" y1="624.4" x2="314.5" y2="718" stroke="#3c3c3c" stroke-width="0.8"/>
<polygon points="314.4,624.4 313.1,631.6 315.7,631.6" fill="#2e2e2e"/>
<polygon points="314.4,718 313.1,710.8 315.7,710.8" fill="#2e2e2e"/>
<text transform="translate(307,610.7) rotate(-90)" x="0" y="4.32" font-size="12" fill="#4c4c4c" text-anchor="middle" textLength="8" lengthAdjust="spacing">C</text>
<text transform="translate(307,676.4) rotate(-90)" x="0" y="4.32" font-size="12" fill="#4c4c4c" text-anchor="middle" textLength="8" lengthAdjust="spacing">D</text>
<text transform="translate(362.7,508.5) rotate(-90)" x="0" y="4.32" font-size="12" fill="#4c4c4c" text-anchor="middle" textLength="112" lengthAdjust="spacing">3V220−06:3−G1/8</text>
<text transform="translate(374.6,508.5) rotate(-90)" x="0" y="4.32" font-size="12" fill="#4c4c4c" text-anchor="middle" textLength="112" lengthAdjust="spacing">3V220−08:3−G1/4</text>
<polyline points="368,466.5 368,564.8 345.5,585.8" stroke="#3c3c3c" stroke-width="0.8" fill="none"/>
<polygon points="344.8,586.5 349.17,580.63 350.95,582.53" fill="#2e2e2e"/>
<text x="570.3" y="457.1" font-size="18.4" fill="#1a1a1a" stroke="#1a1a1a" stroke-width="0.3" textLength="143.9" lengthAdjust="spacing">3V220 Grommet</text>
<g transform="matrix(0.845,0,0,0.845,88.83,418.5)">
<rect x="587.4" y="89.3" width="32.7" height="7.5" fill="url(#kg)" stroke="#3a3a3a" stroke-width="0.9" rx="1"/>
<line x1="590.37" y1="89.8" x2="590.37" y2="96.3" stroke="#3a3a3a" stroke-width="0.75"/>
<line x1="593.35" y1="89.8" x2="593.35" y2="96.3" stroke="#3a3a3a" stroke-width="0.75"/>
<line x1="596.32" y1="89.8" x2="596.32" y2="96.3" stroke="#3a3a3a" stroke-width="0.75"/>
<line x1="599.29" y1="89.8" x2="599.29" y2="96.3" stroke="#3a3a3a" stroke-width="0.75"/>
<line x1="602.26" y1="89.8" x2="602.26" y2="96.3" stroke="#3a3a3a" stroke-width="0.75"/>
<line x1="605.24" y1="89.8" x2="605.24" y2="96.3" stroke="#3a3a3a" stroke-width="0.75"/>
<line x1="608.21" y1="89.8" x2="608.21" y2="96.3" stroke="#3a3a3a" stroke-width="0.75"/>
<line x1="611.18" y1="89.8" x2="611.18" y2="96.3" stroke="#3a3a3a" stroke-width="0.75"/>
<line x1="614.15" y1="89.8" x2="614.15" y2="96.3" stroke="#3a3a3a" stroke-width="0.75"/>
<line x1="617.13" y1="89.8" x2="617.13" y2="96.3" stroke="#3a3a3a" stroke-width="0.75"/>
<rect x="587.8" y="94.3" width="31.9" height="2.8" fill="#444" rx="1.2"/>
<line x1="587.4" y1="89.7" x2="620.1" y2="89.7" stroke="#444" stroke-width="0.9"/>
<circle cx="603.75" cy="92.67" r="1" fill="#333" stroke="none" stroke-width="0"/>
<rect x="586" y="98.4" width="35.4" height="34.8" fill="#dfdfdf" stroke="#3a3a3a" stroke-width="1.1" rx="1.5"/>
<rect x="587" y="99.4" width="33.4" height="32.8" fill="none" stroke="#777" stroke-width="0.6" rx="1"/>
<rect x="590.4" y="105" width="27.1" height="22.7" fill="#e8e8e8" stroke="#333" stroke-width="1"/>
<rect x="592.3" y="106.8" width="23.4" height="19.1" fill="none" stroke="#444" stroke-width="0.7"/>
<rect x="594.2" y="108.4" width="19.4" height="10.4" fill="#c8c8c8" stroke="#333" stroke-width="0.8"/>
<circle cx="598.6" cy="113.7" r="3.5" fill="#b4b4b4" stroke="#222" stroke-width="1.4"/>
<line x1="596.6" y1="113.7" x2="600.6" y2="113.7" stroke="#222" stroke-width="0.8"/>
<line x1="598.6" y1="111.7" x2="598.6" y2="115.7" stroke="#222" stroke-width="0.8"/>
<circle cx="608.4" cy="113.7" r="3.5" fill="#b4b4b4" stroke="#222" stroke-width="1.4"/>
<line x1="606.4" y1="113.7" x2="610.4" y2="113.7" stroke="#222" stroke-width="0.8"/>
<line x1="608.4" y1="111.7" x2="608.4" y2="115.7" stroke="#222" stroke-width="0.8"/>
<text x="598.5" y="131.4" font-size="3.5" fill="#333" text-anchor="middle">1</text>
<text x="608.5" y="131.4" font-size="3.5" fill="#333" text-anchor="middle">2</text>
<rect x="586.5" y="133.2" width="34.5" height="8" fill="#dedede" stroke="#333" stroke-width="0.9"/>
<rect x="587.2" y="141.4" width="33.2" height="4.8" fill="#d6d6d6" stroke="#333" stroke-width="0.9"/>
<rect x="587.2" y="146.6" width="33.2" height="3.6" fill="#d0d0d0" stroke="#333" stroke-width="0.9"/>
</g>
<g transform="matrix(0.845,0,0,-0.845,88.83,786.2)">
<rect x="587.4" y="89.3" width="32.7" height="7.5" fill="url(#kg)" stroke="#3a3a3a" stroke-width="0.9" rx="1"/>
<line x1="590.37" y1="89.8" x2="590.37" y2="96.3" stroke="#3a3a3a" stroke-width="0.75"/>
<line x1="593.35" y1="89.8" x2="593.35" y2="96.3" stroke="#3a3a3a" stroke-width="0.75"/>
<line x1="596.32" y1="89.8" x2="596.32" y2="96.3" stroke="#3a3a3a" stroke-width="0.75"/>
<line x1="599.29" y1="89.8" x2="599.29" y2="96.3" stroke="#3a3a3a" stroke-width="0.75"/>
<line x1="602.26" y1="89.8" x2="602.26" y2="96.3" stroke="#3a3a3a" stroke-width="0.75"/>
<line x1="605.24" y1="89.8" x2="605.24" y2="96.3" stroke="#3a3a3a" stroke-width="0.75"/>
<line x1="608.21" y1="89.8" x2="608.21" y2="96.3" stroke="#3a3a3a" stroke-width="0.75"/>
<line x1="611.18" y1="89.8" x2="611.18" y2="96.3" stroke="#3a3a3a" stroke-width="0.75"/>
<line x1="614.15" y1="89.8" x2="614.15" y2="96.3" stroke="#3a3a3a" stroke-width="0.75"/>
<line x1="617.13" y1="89.8" x2="617.13" y2="96.3" stroke="#3a3a3a" stroke-width="0.75"/>
<rect x="587.8" y="94.3" width="31.9" height="2.8" fill="#444" rx="1.2"/>
<line x1="587.4" y1="89.7" x2="620.1" y2="89.7" stroke="#444" stroke-width="0.9"/>
<circle cx="603.75" cy="92.67" r="1" fill="#333" stroke="none" stroke-width="0"/>
<rect x="586" y="98.4" width="35.4" height="34.8" fill="#dfdfdf" stroke="#3a3a3a" stroke-width="1.1" rx="1.5"/>
<rect x="587" y="99.4" width="33.4" height="32.8" fill="none" stroke="#777" stroke-width="0.6" rx="1"/>
<rect x="590.4" y="105" width="27.1" height="22.7" fill="#e8e8e8" stroke="#333" stroke-width="1"/>
<rect x="592.3" y="106.8" width="23.4" height="19.1" fill="none" stroke="#444" stroke-width="0.7"/>
<rect x="594.2" y="108.4" width="19.4" height="10.4" fill="#c8c8c8" stroke="#333" stroke-width="0.8"/>
<circle cx="598.6" cy="113.7" r="3.5" fill="#b4b4b4" stroke="#222" stroke-width="1.4"/>
<line x1="596.6" y1="113.7" x2="600.6" y2="113.7" stroke="#222" stroke-width="0.8"/>
<line x1="598.6" y1="111.7" x2="598.6" y2="115.7" stroke="#222" stroke-width="0.8"/>
<circle cx="608.4" cy="113.7" r="3.5" fill="#b4b4b4" stroke="#222" stroke-width="1.4"/>
<line x1="606.4" y1="113.7" x2="610.4" y2="113.7" stroke="#222" stroke-width="0.8"/>
<line x1="608.4" y1="111.7" x2="608.4" y2="115.7" stroke="#222" stroke-width="0.8"/>
<text x="598.5" y="131.4" font-size="3.5" fill="#333" text-anchor="middle">1</text>
<text x="608.5" y="131.4" font-size="3.5" fill="#333" text-anchor="middle">2</text>
<rect x="586.5" y="133.2" width="34.5" height="8" fill="#dedede" stroke="#333" stroke-width="0.9"/>
<rect x="587.2" y="141.4" width="33.2" height="4.8" fill="#d6d6d6" stroke="#333" stroke-width="0.9"/>
<rect x="587.2" y="146.6" width="33.2" height="3.6" fill="#d0d0d0" stroke="#333" stroke-width="0.9"/>
</g>
<rect x="584.5" y="545.5" width="29" height="115" fill="#dfdfdf" stroke="#555" stroke-width="1"/>
<line x1="584.1" y1="574.5" x2="613" y2="574.5" stroke="#555" stroke-width="1.2"/>
<line x1="584.1" y1="630.5" x2="613" y2="630.5" stroke="#555" stroke-width="1.2"/>
<line x1="598.5" y1="488" x2="598.5" y2="712" stroke="#3e3e3e" stroke-width="0.9" stroke-dasharray="12 2 1.6 2"/>
<line x1="609.5" y1="585" x2="609.5" y2="724" stroke="#3c3c3c" stroke-width="0.8"/>
<line x1="587.5" y1="625" x2="587.5" y2="724" stroke="#3c3c3c" stroke-width="0.8"/>
<line x1="600.5" y1="601" x2="600.5" y2="612" stroke="#555" stroke-width="0.8"/>
<circle cx="609.9" cy="582.4" r="3" fill="#f6f6f6" stroke="#2e2e2e" stroke-width="1.0"/>
<line x1="605.6" y1="582.5" x2="614.2" y2="582.5" stroke="#333" stroke-width="0.6"/>
<line x1="609.5" y1="578.1" x2="609.5" y2="586.7" stroke="#333" stroke-width="0.6"/>
<circle cx="587.8" cy="622.7" r="3" fill="#f6f6f6" stroke="#2e2e2e" stroke-width="1.0"/>
<line x1="583.5" y1="622.5" x2="592.1" y2="622.5" stroke="#333" stroke-width="0.6"/>
<line x1="587.5" y1="618.4" x2="587.5" y2="627" stroke="#333" stroke-width="0.6"/>
<circle cx="600" cy="601.2" r="7.9" fill="#e4e4e4" stroke="#2e2e2e" stroke-width="1.2"/>
<polygon points="594.98,598.84 600.44,598.84 602.88,601.5 600.44,604.3 594.98,604.3" fill="#f0f0f0" stroke="#333" stroke-width="0.9"/>
<line x1="598.5" y1="597.88" x2="598.5" y2="605.04" stroke="#333" stroke-width="0.8"/>
<line x1="591.1" y1="601.5" x2="608.9" y2="601.5" stroke="#555" stroke-width="0.6"/>
<circle cx="598.38" cy="606.37" r="0.6" fill="#333" stroke="none" stroke-width="0"/>
<text transform="translate(622,543) rotate(-90)" x="0" y="4.32" font-size="12" fill="#4c4c4c" text-anchor="middle" textLength="44" lengthAdjust="spacing">2−Φ3.3</text>
<polyline points="629.1,521.2 629.1,567.3 613,579.6" stroke="#3c3c3c" stroke-width="0.8" fill="none"/>
<polygon points="612.2,580.2 617.13,574.8 618.71,576.86" fill="#2e2e2e"/>
<line x1="612" y1="582.5" x2="631" y2="582.5" stroke="#3c3c3c" stroke-width="0.8"/>
<line x1="586" y1="622.5" x2="631" y2="622.5" stroke="#3c3c3c" stroke-width="0.8"/>
<line x1="573.8" y1="710.5" x2="631" y2="710.5" stroke="#3c3c3c" stroke-width="0.8"/>
<line x1="629.5" y1="582.4" x2="629.5" y2="622.7" stroke="#3c3c3c" stroke-width="0.8"/>
<polygon points="629.5,582.4 628.2,589.6 630.8,589.6" fill="#2e2e2e"/>
<polygon points="629.5,622.7 628.2,615.5 630.8,615.5" fill="#2e2e2e"/>
<line x1="629.5" y1="622.7" x2="629.5" y2="710.5" stroke="#3c3c3c" stroke-width="0.8"/>
<polygon points="629.5,622.7 628.2,629.9 630.8,629.9" fill="#2e2e2e"/>
<polygon points="629.5,710.5 628.2,703.3 630.8,703.3" fill="#2e2e2e"/>
<text transform="translate(623.3,600.5) rotate(-90)" x="0" y="4.32" font-size="12" fill="#4c4c4c" text-anchor="middle" textLength="13.4" lengthAdjust="spacing">30</text>
<text transform="translate(622.8,660.4) rotate(-90)" x="0" y="4.32" font-size="12" fill="#4c4c4c" text-anchor="middle" textLength="25.6" lengthAdjust="spacing">66.4</text>
<line x1="573.8" y1="601.5" x2="594" y2="601.5" stroke="#3c3c3c" stroke-width="0.8"/>
<line x1="574.5" y1="601.3" x2="574.5" y2="710.5" stroke="#3c3c3c" stroke-width="0.8"/>
<polygon points="574.8,601.3 573.5,608.5 576.1,608.5" fill="#2e2e2e"/>
<polygon points="574.8,710.5 573.5,703.3 576.1,703.3" fill="#2e2e2e"/>
<text transform="translate(568.6,651.1) rotate(-90)" x="0" y="4.32" font-size="12" fill="#4c4c4c" text-anchor="middle" textLength="8" lengthAdjust="spacing">A</text>
<line x1="584.8" y1="588.5" x2="613.8" y2="588.5" stroke="#3c3c3c" stroke-width="0.8"/>
<polygon points="598.3,588.6 591.1,587.3 591.1,589.9" fill="#2e2e2e"/>
<polygon points="600.3,588.6 607.5,587.3 607.5,589.9" fill="#2e2e2e"/>
<line x1="574.3" y1="588.5" x2="586" y2="588.5" stroke="#3c3c3c" stroke-width="0.8"/>
<text x="579.4" y="586.5" font-size="12" fill="#4c4c4c" text-anchor="middle" textLength="7.5" lengthAdjust="spacing">B</text>
<line x1="584.5" y1="710.5" x2="584.5" y2="738" stroke="#3c3c3c" stroke-width="0.8"/>
<line x1="613.5" y1="710.5" x2="613.5" y2="738" stroke="#3c3c3c" stroke-width="0.8"/>
<line x1="587.8" y1="722.5" x2="609.9" y2="722.5" stroke="#3c3c3c" stroke-width="0.8"/>
<polygon points="587.8,722.9 595,721.6 595,724.2" fill="#2e2e2e"/>
<polygon points="609.9,722.9 602.7,721.6 602.7,724.2" fill="#2e2e2e"/>
<text x="599.1" y="721.9" font-size="12" fill="#4c4c4c" text-anchor="middle" textLength="12.5" lengthAdjust="spacing">17</text>
<line x1="584.1" y1="736.5" x2="613" y2="736.5" stroke="#3c3c3c" stroke-width="0.8"/>
<polygon points="584.1,736.3 591.3,735 591.3,737.6" fill="#2e2e2e"/>
<polygon points="613,736.3 605.8,735 605.8,737.6" fill="#2e2e2e"/>
<text x="599.1" y="735.3" font-size="12" fill="#4c4c4c" text-anchor="middle" textLength="13.5" lengthAdjust="spacing">22</text>
<line x1="719.5" y1="483" x2="719.5" y2="503" stroke="#3c3c3c" stroke-width="0.8"/>
<line x1="767.5" y1="480" x2="767.5" y2="543" stroke="#3c3c3c" stroke-width="0.8"/>
<line x1="719.6" y1="485.5" x2="767.6" y2="485.5" stroke="#3c3c3c" stroke-width="0.8"/>
<polygon points="719.6,485.9 726.8,484.6 726.8,487.2" fill="#2e2e2e"/>
<polygon points="767.6,485.9 760.4,484.6 760.4,487.2" fill="#2e2e2e"/>
<text x="747" y="484.2" font-size="12" fill="#4c4c4c" text-anchor="middle" textLength="25.7" lengthAdjust="spacing">36.5</text>
<g transform="matrix(0.845,0,0,0.845,109.94,418.64)">
<path d="M724.2,99.2 L770.4,99.2 Q772.4,99.2 772.4,101.2 L772.4,146.4 L728.7,146.4 Q727.6,140 724.2,132 Z" stroke="#3a3a3a" stroke-width="1" fill="#dfdfdf"/>
<path d="M724.2,104.6 Q721.2,106 720.8,110 L717.2,111.6 L717.2,116 L720.8,117.6 Q721.2,125 724.2,127.6" stroke="#444" stroke-width="0.9" fill="#d4d4d4"/>
<line x1="722.6" y1="106.5" x2="722.6" y2="125.5" stroke="#777" stroke-width="0.6" stroke-dasharray="1 1"/>
<rect x="714.2" y="112" width="3" height="3.6" fill="#aaa" stroke="#333" stroke-width="0.7"/>
<line x1="703" y1="113.8" x2="714.2" y2="113.8" stroke="#333" stroke-width="2.4"/>
<line x1="704" y1="113.8" x2="714" y2="113.8" stroke="#999" stroke-width="0.7" stroke-dasharray="0.8 1"/>
<line x1="717.2" y1="113.8" x2="731" y2="113.8" stroke="#888" stroke-width="0.6"/>
<rect x="734.9" y="89" width="32.4" height="10.2" fill="url(#kg)" stroke="#3a3a3a" stroke-width="0.9" rx="1"/>
<line x1="737.85" y1="89.5" x2="737.85" y2="98.7" stroke="#3a3a3a" stroke-width="0.75"/>
<line x1="740.79" y1="89.5" x2="740.79" y2="98.7" stroke="#3a3a3a" stroke-width="0.75"/>
<line x1="743.74" y1="89.5" x2="743.74" y2="98.7" stroke="#3a3a3a" stroke-width="0.75"/>
<line x1="746.68" y1="89.5" x2="746.68" y2="98.7" stroke="#3a3a3a" stroke-width="0.75"/>
<line x1="749.63" y1="89.5" x2="749.63" y2="98.7" stroke="#3a3a3a" stroke-width="0.75"/>
<line x1="752.57" y1="89.5" x2="752.57" y2="98.7" stroke="#3a3a3a" stroke-width="0.75"/>
<line x1="755.52" y1="89.5" x2="755.52" y2="98.7" stroke="#3a3a3a" stroke-width="0.75"/>
<line x1="758.46" y1="89.5" x2="758.46" y2="98.7" stroke="#3a3a3a" stroke-width="0.75"/>
<line x1="761.41" y1="89.5" x2="761.41" y2="98.7" stroke="#3a3a3a" stroke-width="0.75"/>
<line x1="764.35" y1="89.5" x2="764.35" y2="98.7" stroke="#3a3a3a" stroke-width="0.75"/>
<rect x="735.3" y="96.7" width="31.6" height="2.8" fill="#444" rx="1.2"/>
<line x1="734.9" y1="89.4" x2="767.3" y2="89.4" stroke="#444" stroke-width="0.9"/>
<circle cx="751.1" cy="93.59" r="1" fill="#333" stroke="none" stroke-width="0"/>
</g>
<g transform="matrix(0.845,0,0,-0.845,109.5,786.66)">
<path d="M724.2,99.2 L770.4,99.2 Q772.4,99.2 772.4,101.2 L772.4,146.4 L728.7,146.4 Q727.6,140 724.2,132 Z" stroke="#3a3a3a" stroke-width="1" fill="#dfdfdf"/>
<path d="M724.2,104.6 Q721.2,106 720.8,110 L717.2,111.6 L717.2,116 L720.8,117.6 Q721.2,125 724.2,127.6" stroke="#444" stroke-width="0.9" fill="#d4d4d4"/>
<line x1="722.6" y1="106.5" x2="722.6" y2="125.5" stroke="#777" stroke-width="0.6" stroke-dasharray="1 1"/>
<rect x="714.2" y="112" width="3" height="3.6" fill="#aaa" stroke="#333" stroke-width="0.7"/>
<line x1="703" y1="113.8" x2="714.2" y2="113.8" stroke="#333" stroke-width="2.4"/>
<line x1="704" y1="113.8" x2="714" y2="113.8" stroke="#999" stroke-width="0.7" stroke-dasharray="0.8 1"/>
<line x1="717.2" y1="113.8" x2="731" y2="113.8" stroke="#888" stroke-width="0.6"/>
<rect x="734.9" y="89" width="32.4" height="10.2" fill="url(#kg)" stroke="#3a3a3a" stroke-width="0.9" rx="1"/>
<line x1="737.85" y1="89.5" x2="737.85" y2="98.7" stroke="#3a3a3a" stroke-width="0.75"/>
<line x1="740.79" y1="89.5" x2="740.79" y2="98.7" stroke="#3a3a3a" stroke-width="0.75"/>
<line x1="743.74" y1="89.5" x2="743.74" y2="98.7" stroke="#3a3a3a" stroke-width="0.75"/>
<line x1="746.68" y1="89.5" x2="746.68" y2="98.7" stroke="#3a3a3a" stroke-width="0.75"/>
<line x1="749.63" y1="89.5" x2="749.63" y2="98.7" stroke="#3a3a3a" stroke-width="0.75"/>
<line x1="752.57" y1="89.5" x2="752.57" y2="98.7" stroke="#3a3a3a" stroke-width="0.75"/>
<line x1="755.52" y1="89.5" x2="755.52" y2="98.7" stroke="#3a3a3a" stroke-width="0.75"/>
<line x1="758.46" y1="89.5" x2="758.46" y2="98.7" stroke="#3a3a3a" stroke-width="0.75"/>
<line x1="761.41" y1="89.5" x2="761.41" y2="98.7" stroke="#3a3a3a" stroke-width="0.75"/>
<line x1="764.35" y1="89.5" x2="764.35" y2="98.7" stroke="#3a3a3a" stroke-width="0.75"/>
<rect x="735.3" y="96.7" width="31.6" height="2.8" fill="#444" rx="1.2"/>
<line x1="734.9" y1="89.4" x2="767.3" y2="89.4" stroke="#444" stroke-width="0.9"/>
<circle cx="751.1" cy="93.59" r="1" fill="#333" stroke="none" stroke-width="0"/>
</g>
<rect x="721.5" y="542.5" width="46" height="120" fill="#dfdfdf" stroke="#555" stroke-width="1"/>
<rect x="721.5" y="542.5" width="46" height="3" fill="#d6d6d6" stroke="#444" stroke-width="0.9"/>
<rect x="721.5" y="659.5" width="46" height="3" fill="#d6d6d6" stroke="#444" stroke-width="0.9"/>
<line x1="721.4" y1="574.5" x2="767.4" y2="574.5" stroke="#555" stroke-width="1.2"/>
<line x1="721.4" y1="630.5" x2="767.4" y2="630.5" stroke="#555" stroke-width="1.2"/>
<rect x="717.5" y="552.5" width="4" height="16" fill="#e8e8e8" stroke="#444" stroke-width="0.8"/>
<rect x="721.5" y="578.5" width="4" height="8" fill="#e8e8e8" stroke="#444" stroke-width="0.8"/>
<rect x="717.5" y="643.5" width="4" height="9" fill="#e8e8e8" stroke="#444" stroke-width="0.8"/>
<line x1="744.5" y1="490.5" x2="744.5" y2="715" stroke="#3e3e3e" stroke-width="0.9" stroke-dasharray="12 2 1.6 2"/>
<circle cx="732.5" cy="585.7" r="3" fill="#f6f6f6" stroke="#2e2e2e" stroke-width="1.0"/>
<line x1="728.2" y1="585.5" x2="736.8" y2="585.5" stroke="#333" stroke-width="0.6"/>
<line x1="732.5" y1="581.4" x2="732.5" y2="590" stroke="#333" stroke-width="0.6"/>
<circle cx="731.7" cy="618.8" r="3" fill="#f6f6f6" stroke="#2e2e2e" stroke-width="1.0"/>
<line x1="727.4" y1="618.5" x2="736" y2="618.5" stroke="#333" stroke-width="0.6"/>
<line x1="731.5" y1="614.5" x2="731.5" y2="623.1" stroke="#333" stroke-width="0.6"/>
<line x1="707.9" y1="568.5" x2="731.4" y2="568.5" stroke="#3c3c3c" stroke-width="0.8"/>
<polygon points="717.9,568.3 710.7,567 710.7,569.6" fill="#2e2e2e"/>
<polygon points="721.4,568.3 728.6,567 728.6,569.6" fill="#2e2e2e"/>
<text x="736.3" y="566.9" font-size="12" fill="#4c4c4c" text-anchor="middle" textLength="6" lengthAdjust="spacing">3</text>
<text x="659.7" y="605.4" font-size="12" fill="#4c4c4c" textLength="46.2" lengthAdjust="spacing">2−Φ4.2</text>
<polyline points="659.7,606.8 705.9,606.8 730.8,587.5" stroke="#3c3c3c" stroke-width="0.8" fill="none"/>
<polygon points="731.5,587 726.6,592.43 725.01,590.38" fill="#2e2e2e"/>
<line x1="732.5" y1="609.5" x2="732.5" y2="616.5" stroke="#3c3c3c" stroke-width="0.8"/>
<line x1="709.4" y1="610.5" x2="743.7" y2="610.5" stroke="#3c3c3c" stroke-width="0.8"/>
<polygon points="721.4,610.4 714.2,609.1 714.2,611.7" fill="#2e2e2e"/>
<polygon points="731.7,610.4 738.9,609.1 738.9,611.7" fill="#2e2e2e"/>
<text x="723.9" y="607.1" font-size="12" fill="#4c4c4c" textLength="16.3" lengthAdjust="spacing">8.2</text>
<text x="652.4" y="660.8" font-size="16" fill="#626262" stroke="#626262" stroke-width="0.5" textLength="54" lengthAdjust="spacingAndGlyphs">Manual</text>
<text x="654.6" y="675.6" font-size="16" fill="#626262" stroke="#626262" stroke-width="0.5" textLength="60.2" lengthAdjust="spacingAndGlyphs">override</text>
<polyline points="672.7,662.3 706.4,662.3 717.5,647.2" stroke="#3c3c3c" stroke-width="0.8" fill="none"/>
<polygon points="718.2,646.3 715.98,651.5 713.89,649.95" fill="#2e2e2e"/>
<line x1="735" y1="618.5" x2="784" y2="618.5" stroke="#3c3c3c" stroke-width="0.8"/>
<line x1="782.5" y1="585.7" x2="782.5" y2="618.8" stroke="#3c3c3c" stroke-width="0.8"/>
<polygon points="782.5,585.7 781.2,592.9 783.8,592.9" fill="#2e2e2e"/>
<polygon points="782.5,618.8 781.2,611.6 783.8,611.6" fill="#2e2e2e"/>
<line x1="782.5" y1="618.8" x2="782.5" y2="711.2" stroke="#3c3c3c" stroke-width="0.8"/>
<polygon points="782.5,618.8 781.2,626 783.8,626" fill="#2e2e2e"/>
<polygon points="782.5,711.2 781.2,704 783.8,704" fill="#2e2e2e"/>
<line x1="733" y1="585.5" x2="784" y2="585.5" stroke="#3c3c3c" stroke-width="0.8"/>
<text transform="translate(775.2,601.3) rotate(-90)" x="0" y="4.32" font-size="12" fill="#4c4c4c" text-anchor="middle" textLength="13.4" lengthAdjust="spacing">25</text>
<text transform="translate(775.4,666.1) rotate(-90)" x="0" y="4.32" font-size="12" fill="#4c4c4c" text-anchor="middle" textLength="13" lengthAdjust="spacing">69</text>
<line x1="758.2" y1="494.5" x2="800.1" y2="494.5" stroke="#3c3c3c" stroke-width="0.8"/>
<line x1="757.7" y1="711.5" x2="800" y2="711.5" stroke="#3c3c3c" stroke-width="0.8"/>
<line x1="797.5" y1="494.1" x2="797.5" y2="711.2" stroke="#3c3c3c" stroke-width="0.8"/>
<polygon points="797.5,494.1 796.2,501.3 798.8,501.3" fill="#2e2e2e"/>
<polygon points="797.5,711.2 796.2,704 798.8,704" fill="#2e2e2e"/>
<text transform="translate(791.4,598.6) rotate(-90)" x="0" y="4.32" font-size="12" fill="#4c4c4c" text-anchor="middle" textLength="32.6" lengthAdjust="spacing">162.8</text>
<line x1="721.5" y1="703" x2="721.5" y2="727" stroke="#3c3c3c" stroke-width="0.8"/>
<line x1="767.5" y1="663" x2="767.5" y2="727" stroke="#3c3c3c" stroke-width="0.8"/>
<line x1="721.4" y1="725.5" x2="767.4" y2="725.5" stroke="#3c3c3c" stroke-width="0.8"/>
<polygon points="721.4,725.4 728.6,724.1 728.6,726.7" fill="#2e2e2e"/>
<polygon points="767.4,725.4 760.2,724.1 760.2,726.7" fill="#2e2e2e"/>
<text x="747.5" y="723.6" font-size="12" fill="#4c4c4c" text-anchor="middle" textLength="14.5" lengthAdjust="spacing">35</text>
<g transform="matrix(0.845,0,0,0.845,572.65,416.8)">
<rect x="328" y="91.7" width="32.9" height="9.7" fill="url(#kg)" stroke="#3a3a3a" stroke-width="0.9" rx="1"/>
<line x1="330.99" y1="92.2" x2="330.99" y2="100.9" stroke="#3a3a3a" stroke-width="0.75"/>
<line x1="333.98" y1="92.2" x2="333.98" y2="100.9" stroke="#3a3a3a" stroke-width="0.75"/>
<line x1="336.97" y1="92.2" x2="336.97" y2="100.9" stroke="#3a3a3a" stroke-width="0.75"/>
<line x1="339.96" y1="92.2" x2="339.96" y2="100.9" stroke="#3a3a3a" stroke-width="0.75"/>
<line x1="342.95" y1="92.2" x2="342.95" y2="100.9" stroke="#3a3a3a" stroke-width="0.75"/>
<line x1="345.95" y1="92.2" x2="345.95" y2="100.9" stroke="#3a3a3a" stroke-width="0.75"/>
<line x1="348.94" y1="92.2" x2="348.94" y2="100.9" stroke="#3a3a3a" stroke-width="0.75"/>
<line x1="351.93" y1="92.2" x2="351.93" y2="100.9" stroke="#3a3a3a" stroke-width="0.75"/>
<line x1="354.92" y1="92.2" x2="354.92" y2="100.9" stroke="#3a3a3a" stroke-width="0.75"/>
<line x1="357.91" y1="92.2" x2="357.91" y2="100.9" stroke="#3a3a3a" stroke-width="0.75"/>
<rect x="328.4" y="98.9" width="32.1" height="2.8" fill="#444" rx="1.2"/>
<line x1="328" y1="92.1" x2="360.9" y2="92.1" stroke="#444" stroke-width="0.9"/>
<circle cx="344.45" cy="96.06" r="1" fill="#333" stroke="none" stroke-width="0"/>
<rect x="326.8" y="102.1" width="35.3" height="47.2" fill="#dfdfdf" stroke="#3a3a3a" stroke-width="1" rx="1"/>
</g>
<g transform="matrix(0.845,0,0,-0.845,572.85,788.8)">
<rect x="328" y="91.7" width="32.9" height="9.7" fill="url(#kg)" stroke="#3a3a3a" stroke-width="0.9" rx="1"/>
<line x1="330.99" y1="92.2" x2="330.99" y2="100.9" stroke="#3a3a3a" stroke-width="0.75"/>
<line x1="333.98" y1="92.2" x2="333.98" y2="100.9" stroke="#3a3a3a" stroke-width="0.75"/>
<line x1="336.97" y1="92.2" x2="336.97" y2="100.9" stroke="#3a3a3a" stroke-width="0.75"/>
<line x1="339.96" y1="92.2" x2="339.96" y2="100.9" stroke="#3a3a3a" stroke-width="0.75"/>
<line x1="342.95" y1="92.2" x2="342.95" y2="100.9" stroke="#3a3a3a" stroke-width="0.75"/>
<line x1="345.95" y1="92.2" x2="345.95" y2="100.9" stroke="#3a3a3a" stroke-width="0.75"/>
<line x1="348.94" y1="92.2" x2="348.94" y2="100.9" stroke="#3a3a3a" stroke-width="0.75"/>
<line x1="351.93" y1="92.2" x2="351.93" y2="100.9" stroke="#3a3a3a" stroke-width="0.75"/>
<line x1="354.92" y1="92.2" x2="354.92" y2="100.9" stroke="#3a3a3a" stroke-width="0.75"/>
<line x1="357.91" y1="92.2" x2="357.91" y2="100.9" stroke="#3a3a3a" stroke-width="0.75"/>
<rect x="328.4" y="98.9" width="32.1" height="2.8" fill="#444" rx="1.2"/>
<line x1="328" y1="92.1" x2="360.9" y2="92.1" stroke="#444" stroke-width="0.9"/>
<circle cx="344.45" cy="96.06" r="1" fill="#333" stroke="none" stroke-width="0"/>
<rect x="326.8" y="102.1" width="35.3" height="47.2" fill="#dfdfdf" stroke="#3a3a3a" stroke-width="1" rx="1"/>
</g>
<rect x="849.5" y="542.5" width="29" height="121" fill="#dfdfdf" stroke="#555" stroke-width="1"/>
<rect x="849.5" y="542.5" width="29" height="3" fill="#e6e6e6" stroke="#333" stroke-width="1.1"/>
<rect x="849.5" y="659.5" width="29" height="4" fill="#e6e6e6" stroke="#333" stroke-width="1.1"/>
<line x1="849" y1="574.5" x2="878.6" y2="574.5" stroke="#555" stroke-width="1.2"/>
<line x1="849" y1="630.5" x2="878.6" y2="630.5" stroke="#555" stroke-width="1.2"/>
<line x1="863.5" y1="490" x2="863.5" y2="715.5" stroke="#3e3e3e" stroke-width="0.9" stroke-dasharray="12 2 1.6 2"/>
<circle cx="862.6" cy="586.6" r="7.2" fill="#e6e6e6" stroke="#2e2e2e" stroke-width="1.3"/>
<rect x="857.5" y="584.5" width="10" height="6" fill="#f2f2f2" stroke="#333" stroke-width="0.9" rx="2"/>
<line x1="862.5" y1="583" x2="862.5" y2="590.92" stroke="#333" stroke-width="0.8"/>
<circle cx="862.6" cy="616.8" r="7.2" fill="#e6e6e6" stroke="#2e2e2e" stroke-width="1.3"/>
<rect x="857.5" y="614.5" width="10" height="6" fill="#f2f2f2" stroke="#333" stroke-width="0.9" rx="2"/>
<line x1="862.5" y1="613.2" x2="862.5" y2="621.12" stroke="#333" stroke-width="0.8"/>
<circle cx="851.9" cy="582.1" r="2.4" fill="#f6f6f6" stroke="#2e2e2e" stroke-width="0.8"/>
<line x1="848.4" y1="582.5" x2="855.4" y2="582.5" stroke="#333" stroke-width="0.6"/>
<line x1="851.5" y1="578.6" x2="851.5" y2="585.6" stroke="#333" stroke-width="0.6"/>
<circle cx="874.3" cy="622.2" r="2.4" fill="#f6f6f6" stroke="#2e2e2e" stroke-width="0.8"/>
<line x1="870.8" y1="622.5" x2="877.8" y2="622.5" stroke="#333" stroke-width="0.6"/>
<line x1="874.5" y1="618.7" x2="874.5" y2="625.7" stroke="#333" stroke-width="0.6"/>
<line x1="838.5" y1="586.5" x2="856" y2="586.5" stroke="#3c3c3c" stroke-width="0.8"/>
<line x1="838.5" y1="616.5" x2="856" y2="616.5" stroke="#3c3c3c" stroke-width="0.8"/>
<line x1="838.5" y1="711.5" x2="850" y2="711.5" stroke="#3c3c3c" stroke-width="0.8"/>
<line x1="840.5" y1="586.6" x2="840.5" y2="616.8" stroke="#3c3c3c" stroke-width="0.8"/>
<polygon points="840.8,586.6 839.5,593.8 842.1,593.8" fill="#2e2e2e"/>
<polygon points="840.8,616.8 839.5,609.6 842.1,609.6" fill="#2e2e2e"/>
<line x1="840.5" y1="616.8" x2="840.5" y2="711.3" stroke="#3c3c3c" stroke-width="0.8"/>
<polygon points="840.8,616.8 839.5,624 842.1,624" fill="#2e2e2e"/>
<polygon points="840.8,711.3 839.5,704.1 842.1,704.1" fill="#2e2e2e"/>
<text transform="translate(832.9,602.6) rotate(-90)" x="0" y="4.32" font-size="12" fill="#4c4c4c" text-anchor="middle" textLength="8" lengthAdjust="spacing">C</text>
<text transform="translate(832.9,663.1) rotate(-90)" x="0" y="4.32" font-size="12" fill="#4c4c4c" text-anchor="middle" textLength="8" lengthAdjust="spacing">D</text>
<text transform="translate(884.7,503.4) rotate(-90)" x="0" y="4.32" font-size="12" fill="#4c4c4c" text-anchor="middle" textLength="111.5" lengthAdjust="spacing">3V220−06:3−G1/8</text>
<text transform="translate(897.4,503.4) rotate(-90)" x="0" y="4.32" font-size="12" fill="#4c4c4c" text-anchor="middle" textLength="111.5" lengthAdjust="spacing">3V220−08:3−G1/4</text>
<polyline points="890.3,461.7 890.3,561 876,574.5" stroke="#3c3c3c" stroke-width="0.8" fill="none"/>
<polygon points="875.2,575.2 879.55,569.32 881.34,571.21" fill="#2e2e2e"/>
</svg></body></html>
